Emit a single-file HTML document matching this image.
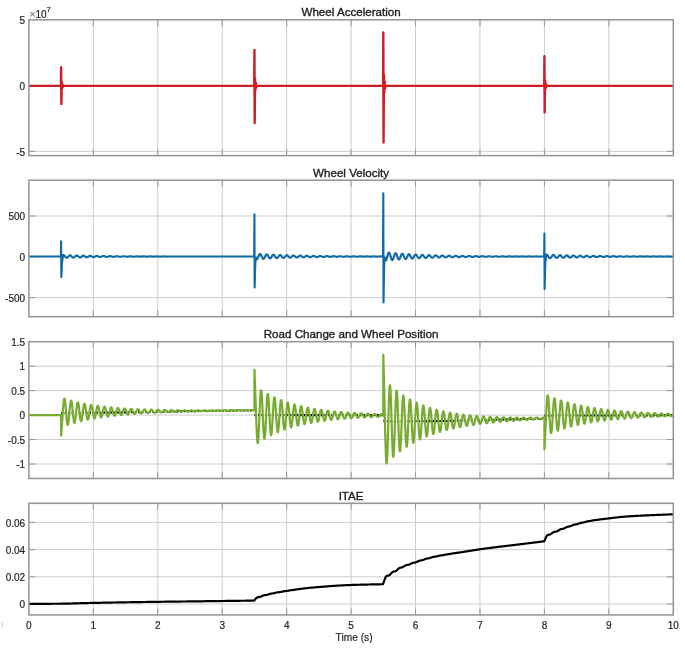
<!DOCTYPE html>
<html><head><meta charset="utf-8"><style>
html,body{margin:0;padding:0;background:#fff;}
body{width:685px;height:649px;overflow:hidden;}
svg{display:block;filter:blur(0.3px);}
.tk{font-family:"Liberation Sans",Arial,sans-serif;font-size:10px;fill:#262626;stroke:#262626;stroke-width:0.2px;}
.tt{font-family:"Liberation Sans",Arial,sans-serif;font-size:11.6px;fill:#1e1e1e;stroke:#1e1e1e;stroke-width:0.35px;}
</style></head><body>
<svg width="685" height="649" viewBox="0 0 685 649"><rect width="685" height="649" fill="#fff"/><clipPath id="c0"><rect x="28.9" y="19.8" width="644.40" height="135.80"/></clipPath><path d="M93.34,19.8V155.6M157.78,19.8V155.6M222.22,19.8V155.6M286.66,19.8V155.6M351.1,19.8V155.6M415.54,19.8V155.6M479.98,19.8V155.6M544.42,19.8V155.6M608.86,19.8V155.6M28.9,151.35H673.3M28.9,85.6H673.3" stroke="#cdcdcd" stroke-width="1" fill="none"/><path d="M93.34,155.6v-6.4M93.34,19.8v6.4M157.78,155.6v-6.4M157.78,19.8v6.4M222.22,155.6v-6.4M222.22,19.8v6.4M286.66,155.6v-6.4M286.66,19.8v6.4M351.1,155.6v-6.4M351.1,19.8v6.4M415.54,155.6v-6.4M415.54,19.8v6.4M479.98,155.6v-6.4M479.98,19.8v6.4M544.42,155.6v-6.4M544.42,19.8v6.4M608.86,155.6v-6.4M608.86,19.8v6.4M28.9,151.35h6.4M673.3,151.35h-6.4M28.9,85.6h6.4M673.3,85.6h-6.4" stroke="#969696" stroke-width="1" fill="none"/><path d="M28.9,85.9 L60.92,85.9 L61.12,67.3 L61.37,103.9 L61.72,82.24 L62.12,88.1 L62.52,84.44 L62.92,86.63 L63.52,85.9 L254.24,85.9 L254.24,85.9 L254.44,50 L254.69,123.1 L255.04,78.59 L255.44,90.29 L255.84,82.98 L256.24,87.36 L256.84,85.9 L383.12,85.9 L383.12,85.9 L383.32,32.5 L383.57,142.5 L383.92,74.9 L384.32,92.5 L384.72,81.5 L385.12,88.1 L385.72,85.9 L544.22,85.9 L544.22,85.9 L544.42,56.3 L544.67,112.4 L545.02,80.29 L545.42,89.27 L545.82,83.66 L546.22,87.02 L546.82,85.9 L673.3,85.9" stroke="#cc1e27" stroke-width="2.4" fill="none" stroke-linejoin="round" clip-path="url(#c0)"/><path d="M60.52,80.32L63.42,85.9L60.52,89.86ZM253.84,75.13L256.74,85.9L253.84,94.08ZM382.72,69.88L385.62,85.9L382.72,98.35ZM543.82,77.02L546.72,85.9L543.82,91.73Z" fill="#dc1a22" stroke="none"/><rect x="28.9" y="19.8" width="644.4" height="135.8" stroke="#969696" stroke-width="1.55" fill="none"/><text x="25.1" y="155.55" text-anchor="end" class="tk">-5</text><text x="25.1" y="89.8" text-anchor="end" class="tk">0</text><text x="25.1" y="24.05" text-anchor="end" class="tk">5</text><text x="351.1" y="16.2" text-anchor="middle" class="tt">Wheel Acceleration</text><clipPath id="c1"><rect x="28.9" y="180.2" width="644.40" height="136.50"/></clipPath><path d="M93.34,180.2V316.7M157.78,180.2V316.7M222.22,180.2V316.7M286.66,180.2V316.7M351.1,180.2V316.7M415.54,180.2V316.7M479.98,180.2V316.7M544.42,180.2V316.7M608.86,180.2V316.7M28.9,297.6H673.3M28.9,256.8H673.3M28.9,216H673.3" stroke="#cdcdcd" stroke-width="1" fill="none"/><path d="M93.34,316.7v-6.4M93.34,180.2v6.4M157.78,316.7v-6.4M157.78,180.2v6.4M222.22,316.7v-6.4M222.22,180.2v6.4M286.66,316.7v-6.4M286.66,180.2v6.4M351.1,316.7v-6.4M351.1,180.2v6.4M415.54,316.7v-6.4M415.54,180.2v6.4M479.98,316.7v-6.4M479.98,180.2v6.4M544.42,316.7v-6.4M544.42,180.2v6.4M608.86,316.7v-6.4M608.86,180.2v6.4M28.9,297.6h6.4M673.3,297.6h-6.4M28.9,256.8h6.4M673.3,256.8h-6.4M28.9,216h6.4M673.3,216h-6.4" stroke="#969696" stroke-width="1" fill="none"/><path d="M28.9,256.5 L60.82,256.5 L61.12,241.2 L61.32,277.1 L62.02,262.5 L62.72,257.5 L63.02,255.09 L63.27,255.01 L63.52,255.01 L63.77,255.09 L64.02,255.25 L64.27,255.47 L64.52,255.75 L64.77,256.06 L65.02,256.4 L65.27,256.73 L65.52,257.05 L65.77,257.33 L66.02,257.56 L66.27,257.73 L66.52,257.84 L66.77,257.86 L67.02,257.82 L67.27,257.7 L67.52,257.52 L67.77,257.28 L68.02,257 L68.27,256.71 L68.52,256.4 L68.77,256.1 L69.02,255.83 L69.27,255.6 L69.52,255.43 L69.77,255.31 L70.02,255.26 L70.27,255.28 L70.52,255.36 L70.77,255.51 L71.02,255.71 L71.27,255.95 L71.52,256.21 L71.77,256.49 L72.02,256.77 L72.27,257.02 L72.52,257.25 L72.77,257.43 L73.02,257.55 L73.27,257.62 L73.52,257.63 L73.77,257.57 L74.02,257.45 L74.27,257.29 L74.52,257.08 L74.77,256.85 L75.02,256.6 L75.27,256.35 L75.52,256.11 L75.77,255.89 L76.02,255.71 L76.27,255.58 L76.52,255.5 L76.77,255.47 L77.02,255.5 L77.27,255.59 L77.52,255.72 L77.77,255.9 L78.02,256.1 L78.27,256.33 L78.52,256.56 L78.77,256.78 L79.02,256.99 L79.27,257.16 L79.52,257.3 L79.77,257.39 L80.02,257.43 L80.27,257.42 L80.52,257.36 L80.77,257.26 L81.02,257.11 L81.27,256.93 L81.52,256.73 L81.77,256.52 L82.02,256.32 L82.27,256.12 L82.52,255.95 L82.77,255.81 L83.02,255.71 L83.27,255.66 L83.52,255.65 L83.77,255.69 L84.02,255.77 L84.27,255.89 L84.52,256.05 L84.77,256.22 L85.02,256.41 L85.27,256.6 L85.52,256.78 L85.77,256.95 L86.02,257.08 L86.27,257.19 L86.52,257.25 L86.77,257.28 L87.02,257.26 L87.27,257.19 L87.52,257.1 L87.77,256.97 L88.02,256.81 L88.27,256.64 L88.52,256.47 L88.77,256.3 L89.02,256.14 L89.27,256.01 L89.52,255.9 L89.77,255.83 L90.02,255.8 L90.27,255.8 L90.52,255.84 L90.77,255.92 L91.02,256.03 L91.27,256.16 L91.52,256.31 L91.77,256.47 L92.02,256.63 L92.27,256.77 L92.52,256.9 L92.77,257.01 L93.02,257.09 L93.27,257.13 L93.52,257.14 L93.77,257.11 L94.02,257.05 L94.27,256.97 L94.52,256.85 L94.77,256.72 L95.02,256.58 L95.27,256.44 L95.52,256.3 L95.77,256.17 L96.02,256.07 L96.27,255.99 L96.52,255.94 L96.77,255.92 L97.02,255.93 L97.27,255.97 L97.52,256.04 L97.77,256.14 L98.02,256.25 L98.27,256.38 L98.52,256.51 L98.77,256.64 L99.02,256.76 L99.27,256.86 L99.52,256.94 L99.77,257 L100.02,257.03 L100.27,257.03 L100.52,257 L100.77,256.94 L101.02,256.86 L101.27,256.76 L101.52,256.65 L101.77,256.53 L102.02,256.41 L102.27,256.3 L102.52,256.2 L102.77,256.12 L103.02,256.06 L103.27,256.03 L103.52,256.02 L103.77,256.03 L104.02,256.08 L104.27,256.14 L104.52,256.23 L104.77,256.33 L105.02,256.43 L105.27,256.54 L105.52,256.64 L105.77,256.74 L106.02,256.82 L106.27,256.88 L106.52,256.92 L106.77,256.94 L107.02,256.93 L107.27,256.9 L107.52,256.85 L107.77,256.78 L108.02,256.69 L108.27,256.6 L108.52,256.5 L108.77,256.4 L109.02,256.31 L109.27,256.23 L109.52,256.17 L109.77,256.13 L110.02,256.1 L110.27,256.1 L110.52,256.12 L110.77,256.16 L111.02,256.22 L111.27,256.3 L111.52,256.38 L111.77,256.47 L112.02,256.56 L112.27,256.64 L112.52,256.72 L112.77,256.78 L113.02,256.83 L113.27,256.86 L113.52,256.86 L113.77,256.85 L114.02,256.82 L114.27,256.77 L114.52,256.71 L114.77,256.64 L115.02,256.56 L115.27,256.48 L115.52,256.4 L115.77,256.32 L116.02,256.26 L116.27,256.21 L116.52,256.18 L116.77,256.17 L117.02,256.17 L117.27,256.2 L117.52,256.23 L117.77,256.29 L118.02,256.35 L118.27,256.42 L118.52,256.49 L118.77,256.57 L119.02,256.64 L119.27,256.7 L119.52,256.75 L119.77,256.78 L120.02,256.8 L120.27,256.8 L120.52,256.79 L120.77,256.76 L121.02,256.71 L121.27,256.66 L121.52,256.6 L121.77,256.53 L122.02,256.46 L122.27,256.4 L122.52,256.34 L122.77,256.29 L123.02,256.25 L123.27,256.23 L123.52,256.22 L123.77,256.23 L124.02,256.26 L124.27,256.29 L124.52,256.34 L124.77,256.39 L125.02,256.45 L125.27,256.51 L125.52,256.57 L125.77,256.63 L126.02,256.68 L126.27,256.71 L126.52,256.74 L126.77,256.75 L127.02,256.75 L127.27,256.73 L127.52,256.7 L127.77,256.66 L128.02,256.62 L128.27,256.56 L128.52,256.51 L128.77,256.45 L129.02,256.4 L129.27,256.35 L129.52,256.32 L129.77,256.29 L130.02,256.28 L130.27,256.27 L130.52,256.28 L130.77,256.3 L131.02,256.34 L131.27,256.38 L131.52,256.42 L131.77,256.47 L132.02,256.52 L132.27,256.57 L132.52,256.62 L132.77,256.65 L133.02,256.68 L133.27,256.7 L133.52,256.71 L133.77,256.7 L134.02,256.69 L134.27,256.66 L134.52,256.63 L134.77,256.59 L135.02,256.54 L135.27,256.49 L135.52,256.45 L135.77,256.41 L136.02,256.37 L136.27,256.34 L136.52,256.32 L136.77,256.31 L137.02,256.31 L137.27,256.32 L137.52,256.34 L137.77,256.37 L138.02,256.41 L138.27,256.45 L138.52,256.49 L138.77,256.53 L139.02,256.57 L139.27,256.61 L139.52,256.64 L139.77,256.66 L140.02,256.67 L140.27,256.67 L140.52,256.66 L140.77,256.65 L141.02,256.63 L141.27,256.6 L141.52,256.56 L141.77,256.52 L142.02,256.48 L142.27,256.45 L142.52,256.41 L142.77,256.39 L143.02,256.36 L143.27,256.35 L143.52,256.34 L143.77,256.35 L144.02,256.36 L144.27,256.38 L144.52,256.4 L144.77,256.43 L145.02,256.47 L145.27,256.5 L145.52,256.54 L145.77,256.57 L146.02,256.6 L146.27,256.62 L146.52,256.63 L146.77,256.64 L147.02,256.64 L147.27,256.63 L147.52,256.62 L147.77,256.6 L148.02,256.57 L148.27,256.54 L148.52,256.51 L148.77,256.48 L149.02,256.45 L149.27,256.42 L149.52,256.4 L149.77,256.38 L150.02,256.37 L150.27,256.37 L150.52,256.38 L150.77,256.39 L151.02,256.4 L151.27,256.43 L151.52,256.45 L151.77,256.48 L152.02,256.51 L152.27,256.54 L152.52,256.56 L152.77,256.58 L153.02,256.6 L153.27,256.61 L153.52,256.62 L153.77,256.62 L154.02,256.61 L154.27,256.59 L154.52,256.58 L154.77,256.55 L155.02,256.53 L155.27,256.5 L155.52,256.47 L155.77,256.45 L156.02,256.43 L156.27,256.41 L156.52,256.4 L156.77,256.39 L157.02,256.39 L157.27,256.4 L157.52,256.41 L157.77,256.43 L158.02,256.44 L158.27,256.47 L158.52,256.49 L158.77,256.51 L159.02,256.54 L159.27,256.56 L159.52,256.57 L159.77,256.59 L160.02,256.6 L160.27,256.6 L160.52,256.59 L160.77,256.59 L161.02,256.57 L161.27,256.56 L161.52,256.54 L161.77,256.52 L162.02,256.49 L162.27,256.47 L162.52,256.45 L162.77,256.44 L163.02,256.42 L163.27,256.42 L163.52,256.41 L163.77,256.41 L164.02,256.42 L164.27,256.43 L164.52,256.44 L164.77,256.46 L165.02,256.48 L165.27,256.5 L165.52,256.52 L165.77,256.54 L166.02,256.55 L166.27,256.57 L166.52,256.57 L166.77,256.58 L167.02,256.58 L167.27,256.58 L167.52,256.57 L167.77,256.56 L168.02,256.54 L168.27,256.53 L168.52,256.51 L168.77,256.49 L169.02,256.47 L169.27,256.46 L169.52,256.44 L169.77,256.43 L170.02,256.43 L170.27,256.43 L170.52,256.43 L170.77,256.43 L171.02,256.44 L171.27,256.46 L171.52,256.47 L171.77,256.49 L172.02,256.5 L172.27,256.52 L172.52,256.53 L172.77,256.55 L173.02,256.56 L173.27,256.56 L173.52,256.57 L173.77,256.57 L174.02,256.56 L174.27,256.55 L174.52,256.54 L174.77,256.53 L175.02,256.52 L175.27,256.5 L175.52,256.49 L175.77,256.47 L176.02,256.46 L176.27,256.45 L176.52,256.44 L176.77,256.44 L177.02,256.44 L177.27,256.44 L177.52,256.45 L177.77,256.46 L178.02,256.47 L178.27,256.48 L178.52,256.49 L178.77,256.51 L179.02,256.52 L179.27,256.53 L179.52,256.54 L179.77,256.55 L180.02,256.55 L180.27,256.56 L180.52,256.55 L180.77,256.55 L181.02,256.54 L181.27,256.53 L181.52,256.52 L181.77,256.51 L182.02,256.5 L182.27,256.49 L182.52,256.48 L182.77,256.47 L183.02,256.46 L183.27,256.45 L183.52,256.45 L183.77,256.45 L184.02,256.45 L184.27,256.46 L184.52,256.47 L184.77,256.48 L185.02,256.49 L185.27,256.5 L185.52,256.51 L185.77,256.52 L186.02,256.53 L186.27,256.54 L186.52,256.54 L186.77,256.55 L187.02,256.55 L187.27,256.54 L187.52,256.54 L187.77,256.53 L188.02,256.53 L188.27,256.52 L188.52,256.51 L188.77,256.5 L189.02,256.49 L189.27,256.48 L189.52,256.47 L189.77,256.46 L190.02,256.46 L190.27,256.46 L190.52,256.46 L190.77,256.46 L191.02,256.47 L191.27,256.47 L191.52,256.48 L191.77,256.49 L192.02,256.5 L192.27,256.51 L192.52,256.52 L192.77,256.53 L193.02,256.53 L193.27,256.54 L193.52,256.54 L193.77,256.54 L194.02,256.54 L194.27,256.53 L194.52,256.53 L194.77,256.52 L195.02,256.51 L195.27,256.5 L195.52,256.49 L195.77,256.49 L196.02,256.48 L196.27,256.47 L196.52,256.47 L196.77,256.47 L197.02,256.47 L197.27,256.47 L197.52,256.47 L197.77,256.47 L198.02,256.48 L198.27,256.49 L198.52,256.49 L198.77,256.5 L199.02,256.51 L199.27,256.52 L199.52,256.52 L199.77,256.53 L200.02,256.53 L200.27,256.53 L200.52,256.53 L200.77,256.53 L201.02,256.53 L201.27,256.52 L201.52,256.51 L201.77,256.51 L202.02,256.5 L202.27,256.49 L202.52,256.49 L202.77,256.48 L203.02,256.48 L203.27,256.47 L203.52,256.47 L203.77,256.47 L204.02,256.47 L204.27,256.48 L204.52,256.48 L204.77,256.48 L205.02,256.49 L205.27,256.5 L205.52,256.5 L205.77,256.51 L206.02,256.52 L206.27,256.52 L206.52,256.52 L206.77,256.53 L207.02,256.53 L207.27,256.53 L207.52,256.52 L207.77,256.52 L208.02,256.52 L208.27,256.51 L208.52,256.5 L208.77,256.5 L209.02,256.49 L209.27,256.49 L209.52,256.48 L209.77,256.48 L210.02,256.48 L210.27,256.48 L210.52,256.48 L210.77,256.48 L211.02,256.48 L211.27,256.48 L211.52,256.49 L211.77,256.49 L212.02,256.5 L212.27,256.5 L212.52,256.51 L212.77,256.51 L213.02,256.52 L213.27,256.52 L213.52,256.52 L213.77,256.52 L214.02,256.52 L214.27,256.52 L214.52,256.52 L214.77,256.51 L215.02,256.51 L215.27,256.5 L215.52,256.5 L215.77,256.49 L216.02,256.49 L216.27,256.49 L216.52,256.48 L216.77,256.48 L217.02,256.48 L217.27,256.48 L217.52,256.48 L217.77,256.48 L218.02,256.49 L218.27,256.49 L218.52,256.5 L218.77,256.5 L219.02,256.5 L219.27,256.51 L219.52,256.51 L219.77,256.52 L220.02,256.52 L220.27,256.52 L220.52,256.52 L220.77,256.52 L221.02,256.51 L221.27,256.51 L221.52,256.51 L221.77,256.5 L222.02,256.5 L222.27,256.5 L222.52,256.49 L222.77,256.49 L223.02,256.49 L223.27,256.49 L223.52,256.48 L223.77,256.48 L224.02,256.48 L224.27,256.49 L224.52,256.49 L224.77,256.49 L225.02,256.49 L225.27,256.5 L225.52,256.5 L225.77,256.5 L226.02,256.51 L226.27,256.51 L226.52,256.51 L226.77,256.51 L227.02,256.51 L227.27,256.51 L227.52,256.51 L227.77,256.51 L228.02,256.51 L228.27,256.51 L228.52,256.5 L228.77,256.5 L229.02,256.5 L229.27,256.49 L229.52,256.49 L229.77,256.49 L230.02,256.49 L230.27,256.49 L230.52,256.49 L230.77,256.49 L231.02,256.49 L231.27,256.49 L231.52,256.49 L231.77,256.5 L232.02,256.5 L232.27,256.5 L232.52,256.5 L232.77,256.51 L233.02,256.51 L233.27,256.51 L233.52,256.51 L233.77,256.51 L234.02,256.51 L234.27,256.51 L234.52,256.51 L234.77,256.51 L235.02,256.5 L235.27,256.5 L235.52,256.5 L235.77,256.5 L236.02,256.49 L236.27,256.49 L236.52,256.49 L236.77,256.49 L237.02,256.49 L237.27,256.49 L237.52,256.49 L237.77,256.49 L238.02,256.49 L238.27,256.5 L238.52,256.5 L238.77,256.5 L239.02,256.5 L239.27,256.5 L239.52,256.51 L239.77,256.51 L240.02,256.51 L240.27,256.51 L240.52,256.51 L240.77,256.51 L241.02,256.51 L241.27,256.51 L241.52,256.51 L241.77,256.5 L242.02,256.5 L242.27,256.5 L242.52,256.5 L242.77,256.49 L243.02,256.49 L243.27,256.49 L243.52,256.49 L243.77,256.49 L244.02,256.49 L244.27,256.49 L244.52,256.49 L244.77,256.49 L245.02,256.5 L245.27,256.5 L245.52,256.5 L245.77,256.5 L246.02,256.5 L246.27,256.51 L246.52,256.51 L246.77,256.51 L247.02,256.51 L247.27,256.51 L247.52,256.51 L247.77,256.51 L248.02,256.51 L248.27,256.5 L248.52,256.5 L248.77,256.5 L249.02,256.5 L249.27,256.5 L249.52,256.5 L249.77,256.49 L250.02,256.49 L250.27,256.49 L250.52,256.49 L250.77,256.49 L251.02,256.49 L251.27,256.49 L251.52,256.5 L251.77,256.5 L252.02,256.5 L252.27,256.5 L252.52,256.5 L252.77,256.5 L253.02,256.51 L253.27,256.51 L253.52,256.51 L253.77,256.51 L254.02,256.51 L254.14,256.5 L254.14,256.5 L254.44,214.3 L254.64,287.5 L255.34,262.5 L256.04,257.5 L256.34,259.15 L256.59,259.31 L256.84,259.31 L257.09,259.16 L257.34,258.86 L257.59,258.44 L257.84,257.92 L258.09,257.33 L258.34,256.7 L258.59,256.07 L258.84,255.46 L259.09,254.93 L259.34,254.48 L259.59,254.16 L259.84,253.96 L260.09,253.91 L260.34,254 L260.59,254.22 L260.84,254.57 L261.09,255.02 L261.34,255.54 L261.59,256.11 L261.84,256.69 L262.09,257.26 L262.34,257.77 L262.59,258.21 L262.84,258.55 L263.09,258.78 L263.34,258.88 L263.59,258.84 L263.84,258.68 L264.09,258.4 L264.34,258.02 L264.59,257.56 L264.84,257.05 L265.09,256.52 L265.34,255.99 L265.59,255.5 L265.84,255.06 L266.09,254.72 L266.34,254.47 L266.59,254.34 L266.84,254.33 L267.09,254.44 L267.34,254.65 L267.59,254.97 L267.84,255.37 L268.09,255.82 L268.34,256.31 L268.59,256.8 L268.84,257.26 L269.09,257.68 L269.34,258.03 L269.59,258.29 L269.84,258.45 L270.09,258.5 L270.34,258.44 L270.59,258.28 L270.84,258.02 L271.09,257.68 L271.34,257.28 L271.59,256.84 L271.84,256.39 L272.09,255.95 L272.34,255.55 L272.59,255.2 L272.84,254.93 L273.09,254.75 L273.34,254.67 L273.59,254.69 L273.84,254.81 L274.09,255.01 L274.34,255.3 L274.59,255.65 L274.84,256.04 L275.09,256.45 L275.34,256.86 L275.59,257.25 L275.84,257.58 L276.09,257.86 L276.34,258.05 L276.59,258.16 L276.84,258.18 L277.09,258.1 L277.34,257.94 L277.59,257.7 L277.84,257.4 L278.09,257.05 L278.34,256.68 L278.59,256.3 L278.84,255.94 L279.09,255.61 L279.34,255.34 L279.59,255.13 L279.84,255 L280.09,254.96 L280.34,255 L280.59,255.12 L280.84,255.31 L281.09,255.57 L281.34,255.88 L281.59,256.21 L281.84,256.56 L282.09,256.9 L282.34,257.21 L282.59,257.48 L282.84,257.7 L283.09,257.84 L283.34,257.91 L283.59,257.9 L283.84,257.82 L284.09,257.66 L284.34,257.44 L284.59,257.18 L284.84,256.88 L285.09,256.56 L285.34,256.25 L285.59,255.95 L285.84,255.68 L286.09,255.47 L286.34,255.31 L286.59,255.22 L286.84,255.2 L287.09,255.26 L287.34,255.38 L287.59,255.56 L287.84,255.79 L288.09,256.05 L288.34,256.34 L288.59,256.63 L288.84,256.91 L289.09,257.17 L289.34,257.38 L289.59,257.55 L289.84,257.65 L290.09,257.69 L290.34,257.67 L290.59,257.58 L290.84,257.43 L291.09,257.24 L291.34,257 L291.59,256.74 L291.84,256.48 L292.09,256.21 L292.34,255.97 L292.59,255.76 L292.84,255.59 L293.09,255.47 L293.34,255.41 L293.59,255.42 L293.84,255.48 L294.09,255.59 L294.34,255.76 L294.59,255.96 L294.84,256.19 L295.09,256.43 L295.34,256.68 L295.59,256.91 L295.84,257.12 L296.09,257.29 L296.34,257.41 L296.59,257.48 L296.84,257.5 L297.09,257.47 L297.34,257.38 L297.59,257.24 L297.84,257.07 L298.09,256.86 L298.34,256.64 L298.59,256.42 L298.84,256.2 L299.09,256 L299.34,255.83 L299.59,255.7 L299.84,255.62 L300.09,255.58 L300.34,255.6 L300.59,255.66 L300.84,255.77 L301.09,255.92 L301.34,256.1 L301.59,256.3 L301.84,256.5 L302.09,256.71 L302.34,256.9 L302.59,257.06 L302.84,257.19 L303.09,257.29 L303.34,257.34 L303.59,257.34 L303.84,257.3 L304.09,257.21 L304.34,257.09 L304.59,256.93 L304.84,256.75 L305.09,256.57 L305.34,256.38 L305.59,256.2 L305.84,256.04 L306.09,255.9 L306.34,255.8 L306.59,255.74 L306.84,255.73 L307.09,255.75 L307.34,255.82 L307.59,255.92 L307.84,256.05 L308.09,256.21 L308.34,256.38 L308.59,256.55 L308.84,256.72 L309.09,256.87 L309.34,257.01 L309.59,257.11 L309.84,257.18 L310.09,257.21 L310.34,257.2 L310.59,257.15 L310.84,257.07 L311.09,256.96 L311.34,256.82 L311.59,256.67 L311.84,256.51 L312.09,256.35 L312.34,256.21 L312.59,256.08 L312.84,255.97 L313.09,255.9 L313.34,255.86 L313.59,255.85 L313.84,255.88 L314.09,255.95 L314.34,256.04 L314.59,256.16 L314.84,256.29 L315.09,256.44 L315.34,256.58 L315.59,256.72 L315.84,256.85 L316.09,256.95 L316.34,257.03 L316.59,257.08 L316.84,257.1 L317.09,257.08 L317.34,257.03 L317.59,256.96 L317.84,256.86 L318.09,256.74 L318.34,256.61 L318.59,256.47 L318.84,256.34 L319.09,256.22 L319.34,256.12 L319.59,256.04 L319.84,255.98 L320.09,255.95 L320.34,255.96 L320.59,255.99 L320.84,256.05 L321.09,256.14 L321.34,256.24 L321.59,256.36 L321.84,256.48 L322.09,256.6 L322.34,256.72 L322.59,256.82 L322.84,256.9 L323.09,256.96 L323.34,257 L323.59,257 L323.84,256.98 L324.09,256.93 L324.34,256.86 L324.59,256.77 L324.84,256.67 L325.09,256.56 L325.34,256.45 L325.59,256.34 L325.84,256.24 L326.09,256.16 L326.34,256.09 L326.59,256.05 L326.84,256.04 L327.09,256.05 L327.34,256.09 L327.59,256.14 L327.84,256.22 L328.09,256.31 L328.34,256.41 L328.59,256.51 L328.84,256.61 L329.09,256.71 L329.34,256.79 L329.59,256.85 L329.84,256.9 L330.09,256.92 L330.34,256.92 L330.59,256.89 L330.84,256.85 L331.09,256.78 L331.34,256.71 L331.59,256.62 L331.84,256.52 L332.09,256.43 L332.34,256.34 L332.59,256.26 L332.84,256.19 L333.09,256.15 L333.34,256.12 L333.59,256.11 L333.84,256.13 L334.09,256.16 L334.34,256.22 L334.59,256.28 L334.84,256.36 L335.09,256.45 L335.34,256.54 L335.59,256.62 L335.84,256.7 L336.09,256.76 L336.34,256.81 L336.59,256.84 L336.84,256.86 L337.09,256.85 L337.34,256.82 L337.59,256.78 L337.84,256.72 L338.09,256.65 L338.34,256.58 L338.59,256.5 L338.84,256.42 L339.09,256.34 L339.34,256.28 L339.59,256.23 L339.84,256.19 L340.09,256.18 L340.34,256.18 L340.59,256.19 L340.84,256.23 L341.09,256.28 L341.34,256.34 L341.59,256.4 L341.84,256.48 L342.09,256.55 L342.34,256.62 L342.59,256.68 L342.84,256.73 L343.09,256.77 L343.34,256.79 L343.59,256.8 L343.84,256.79 L344.09,256.76 L344.34,256.72 L344.59,256.67 L344.84,256.61 L345.09,256.55 L345.34,256.48 L345.59,256.41 L345.84,256.35 L346.09,256.3 L346.34,256.26 L346.59,256.24 L346.84,256.23 L347.09,256.23 L347.34,256.25 L347.59,256.28 L347.84,256.32 L348.09,256.38 L348.34,256.44 L348.59,256.5 L348.84,256.56 L349.09,256.62 L349.34,256.67 L349.59,256.71 L349.84,256.73 L350.09,256.75 L350.34,256.75 L350.59,256.74 L350.84,256.71 L351.09,256.68 L351.34,256.63 L351.59,256.58 L351.84,256.52 L352.09,256.47 L352.34,256.41 L352.59,256.36 L352.84,256.32 L353.09,256.29 L353.34,256.27 L353.59,256.27 L353.84,256.28 L354.09,256.3 L354.34,256.33 L354.59,256.36 L354.84,256.41 L355.09,256.46 L355.34,256.51 L355.59,256.56 L355.84,256.61 L356.09,256.65 L356.34,256.68 L356.59,256.7 L356.84,256.71 L357.09,256.71 L357.34,256.7 L357.59,256.67 L357.84,256.64 L358.09,256.6 L358.34,256.55 L358.59,256.51 L358.84,256.46 L359.09,256.41 L359.34,256.37 L359.59,256.34 L359.84,256.32 L360.09,256.31 L360.34,256.31 L360.59,256.32 L360.84,256.33 L361.09,256.36 L361.34,256.4 L361.59,256.44 L361.84,256.48 L362.09,256.52 L362.34,256.56 L362.59,256.6 L362.84,256.63 L363.09,256.66 L363.34,256.67 L363.59,256.68 L363.84,256.67 L364.09,256.66 L364.34,256.64 L364.59,256.61 L364.84,256.57 L365.09,256.53 L365.34,256.49 L365.59,256.45 L365.84,256.42 L366.09,256.39 L366.34,256.36 L366.59,256.35 L366.84,256.34 L367.09,256.34 L367.34,256.35 L367.59,256.37 L367.84,256.39 L368.09,256.42 L368.34,256.46 L368.59,256.49 L368.84,256.53 L369.09,256.56 L369.34,256.59 L369.59,256.62 L369.84,256.64 L370.09,256.65 L370.34,256.65 L370.59,256.64 L370.84,256.63 L371.09,256.61 L371.34,256.58 L371.59,256.55 L371.84,256.52 L372.09,256.48 L372.34,256.45 L372.59,256.42 L372.84,256.4 L373.09,256.38 L373.34,256.37 L373.59,256.36 L373.84,256.37 L374.09,256.38 L374.34,256.39 L374.59,256.42 L374.84,256.44 L375.09,256.47 L375.34,256.5 L375.59,256.53 L375.84,256.56 L376.09,256.59 L376.34,256.61 L376.59,256.62 L376.84,256.63 L377.09,256.63 L377.34,256.62 L377.59,256.6 L377.84,256.59 L378.09,256.56 L378.34,256.54 L378.59,256.51 L378.84,256.48 L379.09,256.45 L379.34,256.43 L379.59,256.41 L379.84,256.4 L380.09,256.39 L380.34,256.38 L380.59,256.39 L380.84,256.4 L381.09,256.41 L381.34,256.43 L381.59,256.46 L381.84,256.48 L382.09,256.51 L382.34,256.53 L382.59,256.56 L382.84,256.58 L383.02,256.5 L383.02,256.5 L383.32,193.2 L383.52,302.5 L384.22,262.5 L384.92,257.5 L385.22,260.56 L385.47,260.8 L385.72,260.81 L385.97,260.57 L386.22,260.12 L386.47,259.48 L386.72,258.68 L386.97,257.77 L387.22,256.8 L387.47,255.83 L387.72,254.91 L387.97,254.09 L388.22,253.41 L388.47,252.91 L388.72,252.61 L388.97,252.53 L389.22,252.66 L389.47,253.01 L389.72,253.54 L389.97,254.22 L390.22,255.03 L390.47,255.9 L390.72,256.79 L390.97,257.66 L391.22,258.45 L391.47,259.13 L391.72,259.65 L391.97,259.99 L392.22,260.14 L392.47,260.09 L392.72,259.84 L392.97,259.41 L393.22,258.83 L393.47,258.13 L393.72,257.34 L393.97,256.53 L394.22,255.72 L394.47,254.96 L394.72,254.3 L394.97,253.77 L395.22,253.39 L395.47,253.19 L395.72,253.17 L395.97,253.33 L396.22,253.67 L396.47,254.16 L396.72,254.77 L396.97,255.46 L397.22,256.2 L397.47,256.95 L397.72,257.67 L397.97,258.31 L398.22,258.85 L398.47,259.25 L398.72,259.49 L398.97,259.57 L399.22,259.48 L399.47,259.22 L399.72,258.82 L399.97,258.3 L400.22,257.69 L400.47,257.02 L400.72,256.33 L400.97,255.66 L401.22,255.04 L401.47,254.51 L401.72,254.1 L401.97,253.82 L402.22,253.69 L402.47,253.72 L402.72,253.9 L402.97,254.22 L403.22,254.66 L403.47,255.2 L403.72,255.8 L403.97,256.43 L404.22,257.06 L404.47,257.64 L404.72,258.16 L404.97,258.58 L405.22,258.88 L405.47,259.05 L405.72,259.07 L405.97,258.96 L406.22,258.71 L406.47,258.34 L406.72,257.88 L406.97,257.35 L407.22,256.77 L407.47,256.19 L407.72,255.64 L407.97,255.14 L408.22,254.72 L408.47,254.4 L408.72,254.2 L408.97,254.13 L409.22,254.19 L409.47,254.38 L409.72,254.68 L409.97,255.07 L410.22,255.54 L410.47,256.06 L410.72,256.59 L410.97,257.11 L411.22,257.59 L411.47,258.01 L411.72,258.33 L411.97,258.56 L412.22,258.66 L412.47,258.65 L412.72,258.52 L412.97,258.28 L413.22,257.95 L413.47,257.54 L413.72,257.08 L413.97,256.59 L414.22,256.11 L414.47,255.65 L414.72,255.25 L414.97,254.92 L415.22,254.68 L415.47,254.54 L415.72,254.51 L415.97,254.59 L416.22,254.78 L416.47,255.05 L416.72,255.41 L416.97,255.81 L417.22,256.25 L417.47,256.7 L417.72,257.13 L417.97,257.52 L418.22,257.85 L418.47,258.1 L418.72,258.26 L418.97,258.33 L419.22,258.29 L419.47,258.15 L419.72,257.93 L419.97,257.63 L420.22,257.27 L420.47,256.87 L420.72,256.46 L420.97,256.06 L421.22,255.69 L421.47,255.36 L421.72,255.1 L421.97,254.92 L422.22,254.83 L422.47,254.84 L422.72,254.93 L422.97,255.11 L423.22,255.36 L423.47,255.67 L423.72,256.02 L423.97,256.4 L424.22,256.77 L424.47,257.13 L424.72,257.44 L424.97,257.7 L425.22,257.9 L425.47,258.01 L425.72,258.04 L425.97,257.98 L426.22,257.84 L426.47,257.64 L426.72,257.37 L426.97,257.06 L427.22,256.72 L427.47,256.37 L427.72,256.04 L427.97,255.73 L428.22,255.47 L428.47,255.28 L428.72,255.15 L428.97,255.09 L429.22,255.11 L429.47,255.21 L429.72,255.38 L429.97,255.61 L430.22,255.88 L430.47,256.19 L430.72,256.5 L430.97,256.82 L431.22,257.11 L431.47,257.36 L431.72,257.56 L431.97,257.71 L432.22,257.78 L432.47,257.79 L432.72,257.72 L432.97,257.59 L433.22,257.4 L433.47,257.16 L433.72,256.89 L433.97,256.6 L434.22,256.31 L434.47,256.04 L434.72,255.79 L434.97,255.59 L435.22,255.43 L435.47,255.34 L435.72,255.31 L435.97,255.35 L436.22,255.45 L436.47,255.61 L436.72,255.81 L436.97,256.05 L437.22,256.31 L437.47,256.58 L437.72,256.84 L437.97,257.07 L438.22,257.28 L438.47,257.43 L438.72,257.54 L438.97,257.59 L439.22,257.57 L439.47,257.5 L439.72,257.37 L439.97,257.2 L440.22,256.99 L440.47,256.76 L440.72,256.52 L440.97,256.28 L441.22,256.05 L441.47,255.85 L441.72,255.69 L441.97,255.58 L442.22,255.51 L442.47,255.51 L442.72,255.55 L442.97,255.65 L443.22,255.79 L443.47,255.97 L443.72,256.18 L443.97,256.4 L444.22,256.63 L444.47,256.84 L444.72,257.03 L444.97,257.19 L445.22,257.32 L445.47,257.39 L445.72,257.42 L445.97,257.39 L446.22,257.32 L446.47,257.2 L446.72,257.04 L446.97,256.86 L447.22,256.66 L447.47,256.46 L447.72,256.26 L447.97,256.07 L448.22,255.91 L448.47,255.79 L448.72,255.7 L448.97,255.66 L449.22,255.67 L449.47,255.72 L449.72,255.82 L449.97,255.95 L450.22,256.1 L450.47,256.28 L450.72,256.47 L450.97,256.66 L451.22,256.83 L451.47,256.99 L451.72,257.12 L451.97,257.21 L452.22,257.26 L452.47,257.27 L452.72,257.24 L452.97,257.16 L453.22,257.05 L453.47,256.92 L453.72,256.76 L453.97,256.59 L454.22,256.42 L454.47,256.25 L454.72,256.1 L454.97,255.97 L455.22,255.88 L455.47,255.82 L455.72,255.79 L455.97,255.81 L456.22,255.86 L456.47,255.95 L456.72,256.07 L456.97,256.21 L457.22,256.36 L457.47,256.52 L457.72,256.68 L457.97,256.82 L458.22,256.94 L458.47,257.04 L458.72,257.11 L458.97,257.14 L459.22,257.14 L459.47,257.1 L459.72,257.03 L459.97,256.94 L460.22,256.82 L460.47,256.68 L460.72,256.53 L460.97,256.39 L461.22,256.25 L461.47,256.13 L461.72,256.03 L461.97,255.96 L462.22,255.92 L462.47,255.91 L462.72,255.93 L462.97,255.98 L463.22,256.06 L463.47,256.17 L463.72,256.29 L463.97,256.42 L464.22,256.55 L464.47,256.68 L464.72,256.8 L464.97,256.9 L465.22,256.98 L465.47,257.03 L465.72,257.04 L465.97,257.03 L466.22,257 L466.47,256.93 L466.72,256.84 L466.97,256.73 L467.22,256.62 L467.47,256.49 L467.72,256.37 L467.97,256.26 L468.22,256.16 L468.47,256.09 L468.72,256.03 L468.97,256 L469.22,256 L469.47,256.03 L469.72,256.08 L469.97,256.16 L470.22,256.25 L470.47,256.35 L470.72,256.46 L470.97,256.58 L471.22,256.68 L471.47,256.78 L471.72,256.86 L471.97,256.91 L472.22,256.95 L472.47,256.96 L472.72,256.94 L472.97,256.9 L473.22,256.84 L473.47,256.76 L473.72,256.67 L473.97,256.57 L474.22,256.47 L474.47,256.37 L474.72,256.27 L474.97,256.2 L475.22,256.14 L475.47,256.1 L475.72,256.08 L475.97,256.09 L476.22,256.11 L476.47,256.16 L476.72,256.23 L476.97,256.31 L477.22,256.4 L477.47,256.5 L477.72,256.59 L477.97,256.68 L478.22,256.75 L478.47,256.82 L478.72,256.86 L478.97,256.88 L479.22,256.88 L479.47,256.87 L479.72,256.83 L479.97,256.77 L480.22,256.7 L480.47,256.62 L480.72,256.53 L480.97,256.45 L481.22,256.36 L481.47,256.29 L481.72,256.23 L481.97,256.18 L482.22,256.15 L482.47,256.15 L482.72,256.16 L482.97,256.19 L483.22,256.23 L483.47,256.29 L483.72,256.36 L483.97,256.44 L484.22,256.52 L484.47,256.6 L484.72,256.67 L484.97,256.73 L485.22,256.78 L485.47,256.81 L485.72,256.82 L485.97,256.82 L486.22,256.8 L486.47,256.76 L486.72,256.71 L486.97,256.65 L487.22,256.58 L487.47,256.51 L487.72,256.44 L487.97,256.37 L488.22,256.31 L488.47,256.26 L488.72,256.23 L488.97,256.21 L489.22,256.2 L489.47,256.22 L489.72,256.25 L489.97,256.29 L490.22,256.34 L490.47,256.4 L490.72,256.47 L490.97,256.54 L491.22,256.6 L491.47,256.66 L491.72,256.71 L491.97,256.74 L492.22,256.77 L492.47,256.77 L492.72,256.77 L492.97,256.74 L493.22,256.71 L493.47,256.66 L493.72,256.61 L493.97,256.55 L494.22,256.49 L494.47,256.43 L494.72,256.37 L494.97,256.33 L495.22,256.29 L495.47,256.26 L495.72,256.25 L495.97,256.25 L496.22,256.27 L496.47,256.29 L496.72,256.33 L496.97,256.38 L497.22,256.43 L497.47,256.49 L497.72,256.55 L497.97,256.6 L498.22,256.64 L498.47,256.68 L498.72,256.71 L498.97,256.73 L499.22,256.73 L499.47,256.72 L499.72,256.7 L499.97,256.67 L500.22,256.63 L500.47,256.58 L500.72,256.53 L500.97,256.48 L501.22,256.43 L501.47,256.38 L501.72,256.34 L501.97,256.31 L502.22,256.3 L502.47,256.29 L502.72,256.29 L502.97,256.31 L503.22,256.34 L503.47,256.37 L503.72,256.41 L503.97,256.46 L504.22,256.5 L504.47,256.55 L504.72,256.59 L504.97,256.63 L505.22,256.66 L505.47,256.68 L505.72,256.69 L505.97,256.69 L506.22,256.68 L506.47,256.66 L506.72,256.63 L506.97,256.6 L507.22,256.55 L507.47,256.51 L507.72,256.47 L507.97,256.43 L508.22,256.39 L508.47,256.36 L508.72,256.34 L508.97,256.33 L509.22,256.32 L509.47,256.33 L509.72,256.34 L509.97,256.37 L510.22,256.4 L510.47,256.44 L510.72,256.47 L510.97,256.51 L511.22,256.55 L511.47,256.59 L511.72,256.62 L511.97,256.64 L512.22,256.66 L512.47,256.66 L512.72,256.66 L512.97,256.65 L513.22,256.63 L513.47,256.6 L513.72,256.57 L513.97,256.54 L514.22,256.5 L514.47,256.46 L514.72,256.43 L514.97,256.4 L515.22,256.38 L515.47,256.36 L515.72,256.35 L515.97,256.35 L516.22,256.36 L516.47,256.37 L516.72,256.4 L516.97,256.42 L517.22,256.45 L517.47,256.49 L517.72,256.52 L517.97,256.55 L518.22,256.58 L518.47,256.61 L518.72,256.62 L518.97,256.63 L519.22,256.64 L519.47,256.63 L519.72,256.62 L519.97,256.6 L520.22,256.58 L520.47,256.55 L520.72,256.52 L520.97,256.49 L521.22,256.46 L521.47,256.43 L521.72,256.41 L521.97,256.39 L522.22,256.38 L522.47,256.37 L522.72,256.38 L522.97,256.38 L523.22,256.4 L523.47,256.42 L523.72,256.44 L523.97,256.47 L524.22,256.5 L524.47,256.53 L524.72,256.55 L524.97,256.57 L525.22,256.59 L525.47,256.61 L525.72,256.61 L525.97,256.61 L526.22,256.61 L526.47,256.6 L526.72,256.58 L526.97,256.56 L527.22,256.54 L527.47,256.51 L527.72,256.49 L527.97,256.46 L528.22,256.44 L528.47,256.42 L528.72,256.41 L528.97,256.4 L529.22,256.39 L529.47,256.4 L529.72,256.41 L529.97,256.42 L530.22,256.44 L530.47,256.46 L530.72,256.48 L530.97,256.5 L531.22,256.53 L531.47,256.55 L531.72,256.57 L531.97,256.58 L532.22,256.59 L532.47,256.6 L532.72,256.6 L532.97,256.59 L533.22,256.58 L533.47,256.56 L533.72,256.55 L533.97,256.52 L534.22,256.5 L534.47,256.48 L534.72,256.46 L534.97,256.44 L535.22,256.43 L535.47,256.42 L535.72,256.41 L535.97,256.41 L536.22,256.42 L536.47,256.42 L536.72,256.44 L536.97,256.45 L537.22,256.47 L537.47,256.49 L537.72,256.51 L537.97,256.53 L538.22,256.55 L538.47,256.56 L538.72,256.57 L538.97,256.58 L539.22,256.58 L539.47,256.58 L539.72,256.57 L539.97,256.56 L540.22,256.55 L540.47,256.53 L540.72,256.52 L540.97,256.5 L541.22,256.48 L541.47,256.46 L541.72,256.45 L541.97,256.44 L542.22,256.43 L542.47,256.43 L542.72,256.43 L542.97,256.43 L543.22,256.44 L543.47,256.45 L543.72,256.46 L543.97,256.48 L544.12,256.5 L544.12,256.5 L544.42,233.6 L544.62,289 L545.32,262.5 L546.02,257.5 L546.32,254.64 L546.57,254.53 L546.82,254.53 L547.07,254.64 L547.32,254.84 L547.57,255.14 L547.82,255.5 L548.07,255.92 L548.32,256.36 L548.57,256.81 L548.82,257.23 L549.07,257.6 L549.32,257.92 L549.57,258.15 L549.82,258.28 L550.07,258.32 L550.32,258.26 L550.57,258.1 L550.82,257.86 L551.07,257.54 L551.32,257.18 L551.57,256.78 L551.82,256.37 L552.07,255.97 L552.32,255.6 L552.57,255.29 L552.82,255.05 L553.07,254.89 L553.32,254.83 L553.57,254.85 L553.82,254.96 L554.07,255.16 L554.32,255.43 L554.57,255.75 L554.82,256.11 L555.07,256.49 L555.32,256.86 L555.57,257.21 L555.82,257.51 L556.07,257.76 L556.32,257.93 L556.57,258.03 L556.82,258.04 L557.07,257.96 L557.32,257.81 L557.57,257.58 L557.82,257.3 L558.07,256.98 L558.32,256.64 L558.57,256.29 L558.82,255.96 L559.07,255.66 L559.32,255.41 L559.57,255.23 L559.82,255.12 L560.07,255.08 L560.32,255.12 L560.57,255.24 L560.82,255.42 L561.07,255.67 L561.32,255.95 L561.57,256.26 L561.82,256.58 L562.07,256.89 L562.32,257.18 L562.57,257.42 L562.82,257.61 L563.07,257.74 L563.32,257.8 L563.57,257.79 L563.82,257.71 L564.07,257.56 L564.32,257.35 L564.57,257.1 L564.82,256.83 L565.07,256.53 L565.32,256.24 L565.57,255.97 L565.82,255.73 L566.07,255.53 L566.32,255.39 L566.57,255.31 L566.82,255.3 L567.07,255.36 L567.32,255.47 L567.57,255.64 L567.82,255.86 L568.07,256.11 L568.32,256.37 L568.57,256.64 L568.82,256.9 L569.07,257.13 L569.32,257.33 L569.57,257.48 L569.82,257.57 L570.07,257.6 L570.32,257.58 L570.57,257.49 L570.82,257.35 L571.07,257.17 L571.32,256.95 L571.57,256.71 L571.82,256.46 L572.07,256.21 L572.32,255.99 L572.57,255.8 L572.82,255.64 L573.07,255.54 L573.32,255.49 L573.57,255.49 L573.82,255.55 L574.07,255.67 L574.32,255.82 L574.57,256.01 L574.82,256.23 L575.07,256.46 L575.32,256.68 L575.57,256.9 L575.82,257.09 L576.07,257.24 L576.32,257.36 L576.57,257.42 L576.82,257.43 L577.07,257.4 L577.32,257.31 L577.57,257.18 L577.82,257.01 L578.07,256.82 L578.32,256.62 L578.57,256.41 L578.82,256.2 L579.07,256.02 L579.32,255.86 L579.57,255.75 L579.82,255.67 L580.07,255.64 L580.32,255.66 L580.57,255.72 L580.82,255.83 L581.07,255.97 L581.32,256.14 L581.57,256.32 L581.82,256.52 L582.07,256.71 L582.32,256.88 L582.57,257.04 L582.82,257.16 L583.07,257.24 L583.32,257.29 L583.57,257.28 L583.82,257.24 L584.07,257.16 L584.32,257.04 L584.57,256.89 L584.82,256.73 L585.07,256.55 L585.32,256.37 L585.57,256.2 L585.82,256.05 L586.07,255.93 L586.32,255.84 L586.57,255.79 L586.82,255.77 L587.07,255.8 L587.32,255.86 L587.57,255.96 L587.82,256.09 L588.07,256.24 L588.32,256.4 L588.57,256.56 L588.82,256.72 L589.07,256.86 L589.32,256.99 L589.57,257.08 L589.82,257.14 L590.07,257.17 L590.32,257.16 L590.57,257.11 L590.82,257.03 L591.07,256.92 L591.32,256.79 L591.57,256.65 L591.82,256.5 L592.07,256.35 L592.32,256.21 L592.57,256.09 L592.82,255.99 L593.07,255.93 L593.32,255.89 L593.57,255.89 L593.82,255.92 L594.07,255.98 L594.32,256.07 L594.57,256.19 L594.82,256.31 L595.07,256.45 L595.32,256.59 L595.57,256.72 L595.82,256.84 L596.07,256.94 L596.32,257.01 L596.57,257.05 L596.82,257.07 L597.07,257.05 L597.32,257 L597.57,256.93 L597.82,256.83 L598.07,256.71 L598.32,256.59 L598.57,256.46 L598.82,256.34 L599.07,256.23 L599.32,256.13 L599.57,256.05 L599.82,256 L600.07,255.98 L600.32,255.99 L600.57,256.02 L600.82,256.08 L601.07,256.16 L601.32,256.26 L601.57,256.37 L601.82,256.49 L602.07,256.61 L602.32,256.72 L602.57,256.81 L602.82,256.89 L603.07,256.94 L603.32,256.97 L603.57,256.98 L603.82,256.95 L604.07,256.91 L604.32,256.84 L604.57,256.75 L604.82,256.65 L605.07,256.55 L605.32,256.44 L605.57,256.34 L605.82,256.24 L606.07,256.17 L606.32,256.11 L606.57,256.07 L606.82,256.06 L607.07,256.07 L607.32,256.11 L607.57,256.16 L607.82,256.24 L608.07,256.33 L608.32,256.42 L608.57,256.52 L608.82,256.62 L609.07,256.71 L609.32,256.78 L609.57,256.84 L609.82,256.88 L610.07,256.9 L610.32,256.9 L610.57,256.88 L610.82,256.83 L611.07,256.77 L611.32,256.69 L611.57,256.6 L611.82,256.51 L612.07,256.42 L612.32,256.34 L612.57,256.26 L612.82,256.2 L613.07,256.16 L613.32,256.13 L613.57,256.13 L613.82,256.14 L614.07,256.18 L614.32,256.23 L614.57,256.3 L614.82,256.37 L615.07,256.46 L615.32,256.54 L615.57,256.62 L615.82,256.69 L616.07,256.76 L616.32,256.8 L616.57,256.83 L616.82,256.84 L617.07,256.83 L617.32,256.81 L617.57,256.77 L617.82,256.71 L618.07,256.64 L618.32,256.57 L618.57,256.49 L618.82,256.41 L619.07,256.34 L619.32,256.28 L619.57,256.24 L619.82,256.2 L620.07,256.19 L620.32,256.19 L620.57,256.21 L620.82,256.24 L621.07,256.29 L621.32,256.35 L621.57,256.41 L621.82,256.48 L622.07,256.55 L622.32,256.62 L622.57,256.68 L622.82,256.73 L623.07,256.76 L623.32,256.78 L623.57,256.79 L623.82,256.78 L624.07,256.75 L624.32,256.71 L624.57,256.66 L624.82,256.6 L625.07,256.54 L625.32,256.47 L625.57,256.41 L625.82,256.35 L626.07,256.3 L626.32,256.27 L626.57,256.24 L626.82,256.23 L627.07,256.24 L627.32,256.26 L627.57,256.29 L627.82,256.33 L628.07,256.39 L628.32,256.44 L628.57,256.5 L628.82,256.56 L629.07,256.62 L629.32,256.66 L629.57,256.7 L629.82,256.73 L630.07,256.74 L630.32,256.74 L630.57,256.73 L630.82,256.71 L631.07,256.67 L631.32,256.62 L631.57,256.57 L631.82,256.52 L632.07,256.46 L632.32,256.41 L632.57,256.36 L632.82,256.32 L633.07,256.3 L633.32,256.28 L633.57,256.27 L633.82,256.28 L634.07,256.3 L634.32,256.33 L634.57,256.37 L634.82,256.42 L635.07,256.47 L635.32,256.52 L635.57,256.57 L635.82,256.61 L636.07,256.65 L636.32,256.68 L636.57,256.7 L636.82,256.71 L637.07,256.7 L637.32,256.69 L637.57,256.67 L637.82,256.63 L638.07,256.59 L638.32,256.55 L638.57,256.5 L638.82,256.46 L639.07,256.41 L639.32,256.37 L639.57,256.34 L639.82,256.32 L640.07,256.31 L640.32,256.31 L640.57,256.32 L640.82,256.34 L641.07,256.37 L641.32,256.4 L641.57,256.44 L641.82,256.48 L642.07,256.53 L642.32,256.57 L642.57,256.6 L642.82,256.63 L643.07,256.66 L643.32,256.67 L643.57,256.68 L643.82,256.67 L644.07,256.66 L644.32,256.63 L644.57,256.6 L644.82,256.57 L645.07,256.53 L645.32,256.49 L645.57,256.45 L645.82,256.42 L646.07,256.39 L646.32,256.36 L646.57,256.35 L646.82,256.34 L647.07,256.34 L647.32,256.35 L647.57,256.37 L647.82,256.39 L648.07,256.43 L648.32,256.46 L648.57,256.5 L648.82,256.53 L649.07,256.57 L649.32,256.6 L649.57,256.62 L649.82,256.64 L650.07,256.65 L650.32,256.65 L650.57,256.64 L650.82,256.63 L651.07,256.61 L651.32,256.58 L651.57,256.55 L651.82,256.52 L652.07,256.48 L652.32,256.45 L652.57,256.42 L652.82,256.4 L653.07,256.38 L653.32,256.37 L653.57,256.36 L653.82,256.37 L654.07,256.38 L654.32,256.39 L654.57,256.42 L654.82,256.44 L655.07,256.47 L655.32,256.51 L655.57,256.54 L655.82,256.56 L656.07,256.59 L656.32,256.61 L656.57,256.62 L656.82,256.63 L657.07,256.62 L657.32,256.62 L657.57,256.6 L657.82,256.58 L658.07,256.56 L658.32,256.53 L658.57,256.51 L658.82,256.48 L659.07,256.45 L659.32,256.43 L659.57,256.41 L659.82,256.39 L660.07,256.39 L660.32,256.38 L660.57,256.39 L660.82,256.4 L661.07,256.42 L661.32,256.44 L661.57,256.46 L661.82,256.49 L662.07,256.51 L662.32,256.54 L662.57,256.56 L662.82,256.58 L663.07,256.59 L663.32,256.6 L663.57,256.61 L663.82,256.6 L664.07,256.6 L664.32,256.58 L664.57,256.57 L664.82,256.54 L665.07,256.52 L665.32,256.5 L665.57,256.47 L665.82,256.45 L666.07,256.43 L666.32,256.42 L666.57,256.41 L666.82,256.4 L667.07,256.4 L667.32,256.41 L667.57,256.42 L667.82,256.43 L668.07,256.45 L668.32,256.47 L668.57,256.49 L668.82,256.52 L669.07,256.54 L669.32,256.56 L669.57,256.57 L669.82,256.58 L670.07,256.59 L670.32,256.59 L670.57,256.59 L670.82,256.58 L671.07,256.57 L671.32,256.55 L671.57,256.53 L671.82,256.51 L672.07,256.49 L672.32,256.47 L672.57,256.46 L672.82,256.44 L673.3,256.5" stroke="#0f6aa8" stroke-width="2.1" fill="none" stroke-linejoin="round" clip-path="url(#c1)"/><rect x="28.9" y="180.2" width="644.4" height="136.5" stroke="#969696" stroke-width="1.55" fill="none"/><text x="25.1" y="301.8" text-anchor="end" class="tk">-500</text><text x="25.1" y="261" text-anchor="end" class="tk">0</text><text x="25.1" y="220.2" text-anchor="end" class="tk">500</text><text x="351.1" y="176.6" text-anchor="middle" class="tt">Wheel Velocity</text><clipPath id="c2"><rect x="28.9" y="341.7" width="644.40" height="136.80"/></clipPath><path d="M93.34,341.7V478.5M157.78,341.7V478.5M222.22,341.7V478.5M286.66,341.7V478.5M351.1,341.7V478.5M415.54,341.7V478.5M479.98,341.7V478.5M544.42,341.7V478.5M608.86,341.7V478.5M28.9,464H673.3M28.9,439.55H673.3M28.9,415.1H673.3M28.9,390.65H673.3M28.9,366.2H673.3" stroke="#cdcdcd" stroke-width="1" fill="none"/><path d="M93.34,478.5v-6.4M93.34,341.7v6.4M157.78,478.5v-6.4M157.78,341.7v6.4M222.22,478.5v-6.4M222.22,341.7v6.4M286.66,478.5v-6.4M286.66,341.7v6.4M351.1,478.5v-6.4M351.1,341.7v6.4M415.54,478.5v-6.4M415.54,341.7v6.4M479.98,478.5v-6.4M479.98,341.7v6.4M544.42,478.5v-6.4M544.42,341.7v6.4M608.86,478.5v-6.4M608.86,341.7v6.4M28.9,464h6.4M673.3,464h-6.4M28.9,439.55h6.4M673.3,439.55h-6.4M28.9,415.1h6.4M673.3,415.1h-6.4M28.9,390.65h6.4M673.3,390.65h-6.4M28.9,366.2h6.4M673.3,366.2h-6.4" stroke="#969696" stroke-width="1" fill="none"/><path d="M61.12,413.1 L125.56,412.4 L190,411.2 L254.44,410.3M254.44,415.1 L383.32,415.1M383.32,420.5 L389.76,421.5 L447.76,421 L512.2,419.3 L544.42,418.5M544.42,415.6 L673.3,415.3" stroke="#000" stroke-width="2.1" stroke-dasharray="1.9 1.6" fill="none" clip-path="url(#c2)"/><path d="M28.9,415.2 L29.1,415.2 L29.3,415.2 L29.5,415.2 L29.7,415.2 L29.9,415.2 L30.1,415.2 L30.3,415.2 L30.5,415.2 L30.7,415.2 L30.9,415.2 L31.1,415.2 L31.3,415.2 L31.5,415.2 L31.7,415.2 L31.9,415.2 L32.1,415.2 L32.3,415.2 L32.5,415.2 L32.7,415.2 L32.9,415.2 L33.1,415.2 L33.3,415.2 L33.5,415.2 L33.7,415.2 L33.9,415.2 L34.1,415.2 L34.3,415.2 L34.5,415.2 L34.7,415.2 L34.9,415.2 L35.1,415.2 L35.3,415.2 L35.5,415.2 L35.7,415.2 L35.9,415.2 L36.1,415.2 L36.3,415.2 L36.5,415.2 L36.7,415.2 L36.9,415.2 L37.11,415.2 L37.31,415.2 L37.51,415.2 L37.71,415.2 L37.91,415.2 L38.11,415.2 L38.31,415.2 L38.51,415.2 L38.71,415.2 L38.91,415.2 L39.11,415.2 L39.31,415.2 L39.51,415.2 L39.71,415.2 L39.91,415.2 L40.11,415.2 L40.31,415.2 L40.51,415.2 L40.71,415.2 L40.91,415.2 L41.11,415.2 L41.31,415.2 L41.51,415.2 L41.71,415.2 L41.91,415.2 L42.11,415.2 L42.31,415.2 L42.51,415.2 L42.71,415.2 L42.91,415.2 L43.11,415.2 L43.31,415.2 L43.51,415.2 L43.71,415.2 L43.91,415.2 L44.11,415.2 L44.31,415.2 L44.51,415.2 L44.71,415.2 L44.91,415.2 L45.11,415.2 L45.31,415.2 L45.51,415.2 L45.71,415.2 L45.91,415.2 L46.11,415.2 L46.31,415.2 L46.51,415.2 L46.71,415.2 L46.91,415.2 L47.11,415.2 L47.31,415.2 L47.51,415.2 L47.71,415.2 L47.91,415.2 L48.11,415.2 L48.31,415.2 L48.51,415.2 L48.71,415.2 L48.91,415.2 L49.11,415.2 L49.31,415.2 L49.51,415.2 L49.71,415.2 L49.91,415.2 L50.11,415.2 L50.31,415.2 L50.51,415.2 L50.71,415.2 L50.91,415.2 L51.11,415.2 L51.31,415.2 L51.51,415.2 L51.71,415.2 L51.91,415.2 L52.11,415.2 L52.31,415.2 L52.51,415.2 L52.71,415.2 L52.91,415.2 L53.11,415.2 L53.32,415.2 L53.52,415.2 L53.72,415.2 L53.92,415.2 L54.12,415.2 L54.32,415.2 L54.52,415.2 L54.72,415.2 L54.92,415.2 L55.12,415.2 L55.32,415.2 L55.52,415.2 L55.72,415.2 L55.92,415.2 L56.12,415.2 L56.32,415.2 L56.52,415.2 L56.72,415.2 L56.92,415.2 L57.12,415.2 L57.32,415.2 L57.52,415.2 L57.72,415.2 L57.92,415.2 L58.12,415.2 L58.32,415.2 L58.52,415.2 L58.72,415.2 L58.92,415.2 L59.12,415.2 L59.32,415.2 L59.52,415.2 L59.72,415.2 L59.92,415.2 L60.12,415.2 L60.32,415.2 L60.52,415.2 L60.72,415.2 L60.92,415.2 L61.12,415.2 L61.12,435.7 L61.32,432.93 L61.52,430.18 L61.72,427.44 L61.92,424.66 L62.12,421.84 L62.32,418.98 L62.52,416.1 L62.72,413.25 L62.92,410.48 L63.12,407.84 L63.32,405.42 L63.52,403.28 L63.72,401.49 L63.92,400.09 L64.12,399.12 L64.32,398.63 L64.52,398.62 L64.72,399.08 L64.92,400 L65.12,401.34 L65.32,403.04 L65.52,405.06 L65.72,407.3 L65.92,409.7 L66.12,412.16 L66.32,414.6 L66.52,416.94 L66.72,419.08 L66.92,420.97 L67.12,422.53 L67.32,423.71 L67.52,424.48 L67.72,424.81 L67.92,424.69 L68.12,424.14 L68.32,423.17 L68.52,421.82 L68.72,420.16 L68.92,418.22 L69.12,416.1 L69.33,413.86 L69.53,411.58 L69.73,409.35 L69.93,407.24 L70.13,405.32 L70.33,403.67 L70.53,402.33 L70.73,401.35 L70.93,400.76 L71.13,400.58 L71.33,400.81 L71.53,401.44 L71.73,402.44 L71.93,403.77 L72.13,405.39 L72.33,407.23 L72.53,409.22 L72.73,411.3 L72.93,413.4 L73.13,415.42 L73.33,417.32 L73.53,419.01 L73.73,420.45 L73.93,421.58 L74.13,422.37 L74.33,422.79 L74.53,422.84 L74.73,422.5 L74.93,421.81 L75.13,420.78 L75.33,419.46 L75.53,417.9 L75.73,416.15 L75.93,414.27 L76.13,412.34 L76.33,410.42 L76.53,408.57 L76.73,406.87 L76.93,405.38 L77.13,404.13 L77.33,403.18 L77.53,402.55 L77.73,402.26 L77.93,402.32 L78.13,402.73 L78.33,403.47 L78.53,404.5 L78.73,405.79 L78.93,407.28 L79.13,408.94 L79.33,410.69 L79.53,412.47 L79.73,414.22 L79.93,415.88 L80.13,417.39 L80.33,418.7 L80.53,419.77 L80.73,420.55 L80.93,421.03 L81.13,421.19 L81.33,421.03 L81.53,420.55 L81.73,419.78 L81.93,418.75 L82.13,417.49 L82.33,416.06 L82.53,414.49 L82.73,412.86 L82.93,411.22 L83.13,409.62 L83.33,408.12 L83.53,406.77 L83.73,405.63 L83.93,404.72 L84.13,404.08 L84.33,403.72 L84.53,403.66 L84.73,403.9 L84.93,404.42 L85.13,405.2 L85.34,406.22 L85.54,407.43 L85.74,408.79 L85.94,410.26 L86.14,411.77 L86.34,413.27 L86.54,414.72 L86.74,416.06 L86.94,417.24 L87.14,418.23 L87.34,418.99 L87.54,419.5 L87.74,419.74 L87.94,419.7 L88.14,419.4 L88.34,418.83 L88.54,418.04 L88.74,417.03 L88.94,415.87 L89.14,414.57 L89.34,413.2 L89.54,411.8 L89.74,410.42 L89.94,409.1 L90.14,407.91 L90.34,406.86 L90.54,406.01 L90.74,405.37 L90.94,404.98 L91.14,404.83 L91.34,404.94 L91.54,405.29 L91.74,405.87 L91.94,406.67 L92.14,407.64 L92.34,408.75 L92.54,409.97 L92.74,411.24 L92.94,412.53 L93.14,413.79 L93.34,414.96 L93.54,416.02 L93.74,416.93 L93.94,417.65 L94.14,418.17 L94.34,418.46 L94.54,418.52 L94.74,418.34 L94.94,417.95 L95.14,417.34 L95.34,416.55 L95.54,415.61 L95.74,414.54 L95.94,413.39 L96.14,412.21 L96.34,411.02 L96.54,409.88 L96.74,408.82 L96.94,407.88 L97.14,407.08 L97.34,406.47 L97.54,406.06 L97.74,405.85 L97.94,405.86 L98.14,406.08 L98.34,406.5 L98.54,407.11 L98.74,407.88 L98.94,408.79 L99.14,409.79 L99.34,410.86 L99.54,411.96 L99.74,413.04 L99.94,414.07 L100.14,415.01 L100.34,415.84 L100.54,416.51 L100.74,417.02 L100.94,417.34 L101.14,417.47 L101.34,417.39 L101.55,417.12 L101.75,416.67 L101.95,416.06 L102.15,415.3 L102.35,414.43 L102.55,413.48 L102.75,412.48 L102.95,411.46 L103.15,410.47 L103.35,409.54 L103.55,408.7 L103.75,407.97 L103.95,407.39 L104.15,406.97 L104.35,406.73 L104.55,406.66 L104.75,406.78 L104.95,407.08 L105.15,407.54 L105.35,408.15 L105.55,408.88 L105.75,409.7 L105.95,410.59 L106.15,411.52 L106.35,412.45 L106.55,413.34 L106.75,414.18 L106.95,414.92 L107.15,415.55 L107.35,416.03 L107.55,416.37 L107.75,416.54 L107.95,416.54 L108.15,416.37 L108.35,416.04 L108.55,415.57 L108.75,414.97 L108.95,414.26 L109.15,413.48 L109.35,412.64 L109.55,411.77 L109.75,410.92 L109.95,410.1 L110.15,409.35 L110.35,408.7 L110.55,408.15 L110.75,407.74 L110.95,407.48 L111.15,407.37 L111.35,407.41 L111.55,407.6 L111.75,407.94 L111.95,408.41 L112.15,409 L112.35,409.67 L112.55,410.41 L112.75,411.19 L112.95,411.98 L113.15,412.76 L113.35,413.49 L113.55,414.15 L113.75,414.72 L113.95,415.18 L114.15,415.52 L114.35,415.72 L114.55,415.77 L114.75,415.68 L114.95,415.46 L115.15,415.1 L115.35,414.63 L115.55,414.06 L115.75,413.41 L115.95,412.71 L116.15,411.98 L116.35,411.25 L116.55,410.54 L116.75,409.88 L116.95,409.29 L117.15,408.78 L117.35,408.39 L117.56,408.12 L117.76,407.97 L117.96,407.96 L118.16,408.07 L118.36,408.32 L118.56,408.68 L118.76,409.14 L118.96,409.68 L119.16,410.29 L119.36,410.95 L119.56,411.62 L119.76,412.29 L119.96,412.92 L120.16,413.51 L120.36,414.03 L120.56,414.46 L120.76,414.78 L120.96,415 L121.16,415.09 L121.36,415.06 L121.56,414.91 L121.76,414.65 L121.96,414.28 L122.16,413.83 L122.36,413.3 L122.56,412.72 L122.76,412.1 L122.96,411.48 L123.16,410.86 L123.36,410.28 L123.56,409.76 L123.76,409.3 L123.96,408.93 L124.16,408.65 L124.36,408.49 L124.56,408.43 L124.76,408.49 L124.96,408.66 L125.16,408.93 L125.36,409.29 L125.56,409.72 L125.76,410.23 L125.96,410.77 L126.16,411.34 L126.36,411.91 L126.56,412.46 L126.76,412.98 L126.96,413.44 L127.16,413.84 L127.36,414.15 L127.56,414.37 L127.76,414.48 L127.96,414.5 L128.16,414.41 L128.36,414.22 L128.56,413.94 L128.76,413.58 L128.96,413.15 L129.16,412.67 L129.36,412.16 L129.56,411.63 L129.76,411.1 L129.96,410.59 L130.16,410.13 L130.36,409.71 L130.56,409.37 L130.76,409.1 L130.96,408.93 L131.16,408.84 L131.36,408.85 L131.56,408.96 L131.76,409.16 L131.96,409.44 L132.16,409.78 L132.36,410.19 L132.56,410.64 L132.76,411.12 L132.96,411.6 L133.16,412.08 L133.36,412.54 L133.56,412.95 L133.77,413.31 L133.97,413.6 L134.17,413.82 L134.37,413.95 L134.57,413.99 L134.77,413.95 L134.97,413.82 L135.17,413.61 L135.37,413.33 L135.57,412.99 L135.77,412.59 L135.97,412.17 L136.17,411.72 L136.37,411.27 L136.57,410.83 L136.77,410.41 L136.97,410.04 L137.17,409.72 L137.37,409.47 L137.57,409.29 L137.77,409.19 L137.97,409.17 L138.17,409.23 L138.37,409.37 L138.57,409.58 L138.77,409.85 L138.97,410.18 L139.17,410.55 L139.37,410.95 L139.57,411.36 L139.77,411.77 L139.97,412.17 L140.17,412.53 L140.37,412.86 L140.57,413.13 L140.77,413.34 L140.97,413.48 L141.17,413.54 L141.37,413.54 L141.57,413.45 L141.77,413.3 L141.97,413.08 L142.17,412.81 L142.37,412.49 L142.57,412.13 L142.77,411.76 L142.97,411.37 L143.17,410.99 L143.37,410.63 L143.57,410.3 L143.77,410.01 L143.97,409.77 L144.17,409.6 L144.37,409.48 L144.57,409.44 L144.77,409.46 L144.97,409.56 L145.17,409.71 L145.37,409.93 L145.57,410.19 L145.77,410.49 L145.97,410.82 L146.17,411.17 L146.37,411.52 L146.57,411.86 L146.77,412.18 L146.97,412.47 L147.17,412.72 L147.37,412.92 L147.57,413.06 L147.77,413.14 L147.97,413.16 L148.17,413.11 L148.37,413 L148.57,412.84 L148.77,412.62 L148.97,412.36 L149.17,412.07 L149.37,411.76 L149.57,411.43 L149.78,411.1 L149.98,410.79 L150.18,410.49 L150.38,410.23 L150.58,410.01 L150.78,409.84 L150.98,409.73 L151.18,409.67 L151.38,409.66 L151.58,409.72 L151.78,409.83 L151.98,410 L152.18,410.21 L152.38,410.45 L152.58,410.72 L152.78,411.01 L152.98,411.31 L153.18,411.61 L153.38,411.89 L153.58,412.15 L153.78,412.37 L153.98,412.56 L154.18,412.69 L154.38,412.78 L154.58,412.82 L154.78,412.8 L154.98,412.72 L155.18,412.6 L155.38,412.43 L155.58,412.23 L155.78,411.99 L155.98,411.72 L156.18,411.45 L156.38,411.17 L156.58,410.9 L156.78,410.64 L156.98,410.41 L157.18,410.2 L157.38,410.04 L157.58,409.92 L157.78,409.85 L157.98,409.83 L158.18,409.86 L158.38,409.94 L158.58,410.06 L158.78,410.23 L158.98,410.42 L159.18,410.65 L159.38,410.89 L159.58,411.14 L159.78,411.39 L159.98,411.64 L160.18,411.87 L160.38,412.07 L160.58,412.24 L160.78,412.37 L160.98,412.46 L161.18,412.51 L161.38,412.51 L161.58,412.46 L161.78,412.38 L161.98,412.25 L162.18,412.08 L162.38,411.89 L162.58,411.67 L162.78,411.44 L162.98,411.2 L163.18,410.97 L163.38,410.74 L163.58,410.53 L163.78,410.35 L163.98,410.2 L164.18,410.08 L164.38,410.01 L164.58,409.97 L164.78,409.98 L164.98,410.03 L165.18,410.12 L165.38,410.25 L165.58,410.41 L165.78,410.59 L165.99,410.79 L166.19,411 L166.39,411.22 L166.59,411.43 L166.79,411.63 L166.99,411.81 L167.19,411.96 L167.39,412.09 L167.59,412.18 L167.79,412.23 L167.99,412.25 L168.19,412.22 L168.39,412.16 L168.59,412.06 L168.79,411.93 L168.99,411.78 L169.19,411.6 L169.39,411.41 L169.59,411.2 L169.79,411 L169.99,410.81 L170.19,410.62 L170.39,410.46 L170.59,410.32 L170.79,410.21 L170.99,410.13 L171.19,410.09 L171.39,410.08 L171.59,410.11 L171.79,410.18 L171.99,410.27 L172.19,410.39 L172.39,410.54 L172.59,410.71 L172.79,410.88 L172.99,411.07 L173.19,411.25 L173.39,411.42 L173.59,411.58 L173.79,411.72 L173.99,411.84 L174.19,411.93 L174.39,411.98 L174.59,412.01 L174.79,412 L174.99,411.96 L175.19,411.89 L175.39,411.79 L175.59,411.66 L175.79,411.51 L175.99,411.35 L176.19,411.19 L176.39,411.01 L176.59,410.84 L176.79,410.68 L176.99,410.54 L177.19,410.41 L177.39,410.3 L177.59,410.23 L177.79,410.18 L177.99,410.16 L178.19,410.17 L178.39,410.22 L178.59,410.29 L178.79,410.38 L178.99,410.5 L179.19,410.64 L179.39,410.78 L179.59,410.94 L179.79,411.09 L179.99,411.24 L180.19,411.38 L180.39,411.51 L180.59,411.62 L180.79,411.7 L180.99,411.76 L181.19,411.79 L181.39,411.79 L181.59,411.77 L181.79,411.72 L181.99,411.64 L182.2,411.54 L182.4,411.42 L182.6,411.29 L182.8,411.15 L183,411 L183.2,410.85 L183.4,410.71 L183.6,410.58 L183.8,410.47 L184,410.37 L184.2,410.3 L184.4,410.25 L184.6,410.22 L184.8,410.22 L185,410.25 L185.2,410.3 L185.4,410.37 L185.6,410.47 L185.8,410.58 L186,410.7 L186.2,410.83 L186.4,410.96 L186.6,411.09 L186.8,411.21 L187,411.32 L187.2,411.42 L187.4,411.5 L187.6,411.56 L187.8,411.59 L188,411.6 L188.2,411.59 L188.4,411.56 L188.6,411.5 L188.8,411.42 L189,411.32 L189.2,411.21 L189.4,411.1 L189.6,410.97 L189.8,410.85 L190,410.72 L190.2,410.61 L190.4,410.51 L190.6,410.42 L190.8,410.35 L191,410.29 L191.2,410.26 L191.4,410.26 L191.6,410.27 L191.8,410.31 L192,410.36 L192.2,410.43 L192.4,410.52 L192.6,410.62 L192.8,410.73 L193,410.84 L193.2,410.95 L193.4,411.06 L193.6,411.16 L193.8,411.24 L194,411.32 L194.2,411.37 L194.4,411.41 L194.6,411.43 L194.8,411.42 L195,411.4 L195.2,411.36 L195.4,411.3 L195.6,411.22 L195.8,411.13 L196,411.03 L196.2,410.93 L196.4,410.82 L196.6,410.72 L196.8,410.62 L197,410.52 L197.2,410.44 L197.4,410.38 L197.6,410.33 L197.8,410.29 L198,410.28 L198.21,410.28 L198.41,410.31 L198.61,410.35 L198.81,410.4 L199.01,410.47 L199.21,410.55 L199.41,410.64 L199.61,410.74 L199.81,410.83 L200.01,410.92 L200.21,411.01 L200.41,411.09 L200.61,411.15 L200.81,411.21 L201.01,411.24 L201.21,411.27 L201.41,411.27 L201.61,411.26 L201.81,411.22 L202.01,411.18 L202.21,411.12 L202.41,411.05 L202.61,410.96 L202.81,410.88 L203.01,410.79 L203.21,410.7 L203.41,410.61 L203.61,410.53 L203.81,410.45 L204.01,410.39 L204.21,410.34 L204.41,410.31 L204.61,410.29 L204.81,410.29 L205.01,410.3 L205.21,410.33 L205.41,410.37 L205.61,410.43 L205.81,410.49 L206.01,410.56 L206.21,410.64 L206.41,410.72 L206.61,410.8 L206.81,410.88 L207.01,410.95 L207.21,411.01 L207.41,411.06 L207.61,411.09 L207.81,411.12 L208.01,411.12 L208.21,411.12 L208.41,411.1 L208.61,411.06 L208.81,411.01 L209.01,410.96 L209.21,410.89 L209.41,410.82 L209.61,410.74 L209.81,410.66 L210.01,410.58 L210.21,410.51 L210.41,410.45 L210.61,410.39 L210.81,410.34 L211.01,410.31 L211.21,410.29 L211.41,410.28 L211.61,410.29 L211.81,410.31 L212.01,410.34 L212.21,410.38 L212.41,410.43 L212.61,410.49 L212.81,410.56 L213.01,410.62 L213.21,410.69 L213.41,410.76 L213.61,410.82 L213.81,410.87 L214.01,410.92 L214.21,410.95 L214.42,410.98 L214.62,410.99 L214.82,410.99 L215.02,410.97 L215.22,410.95 L215.42,410.91 L215.62,410.86 L215.82,410.81 L216.02,410.75 L216.22,410.68 L216.42,410.62 L216.62,410.55 L216.82,410.49 L217.02,410.43 L217.22,410.38 L217.42,410.33 L217.62,410.3 L217.82,410.28 L218.02,410.27 L218.22,410.27 L218.42,410.28 L218.62,410.3 L218.82,410.33 L219.02,410.38 L219.22,410.42 L219.42,410.48 L219.62,410.53 L219.82,410.59 L220.02,410.65 L220.22,410.7 L220.42,410.75 L220.62,410.79 L220.82,410.82 L221.02,410.85 L221.22,410.86 L221.42,410.86 L221.62,410.85 L221.82,410.84 L222.02,410.81 L222.22,410.77 L222.42,410.73 L222.62,410.68 L222.82,410.62 L223.02,410.57 L223.22,410.51 L223.42,410.45 L223.62,410.4 L223.82,410.36 L224.02,410.32 L224.22,410.28 L224.42,410.26 L224.62,410.25 L224.82,410.24 L225.02,410.25 L225.22,410.26 L225.42,410.29 L225.62,410.32 L225.82,410.36 L226.02,410.4 L226.22,410.45 L226.42,410.5 L226.62,410.55 L226.82,410.59 L227.02,410.63 L227.22,410.67 L227.42,410.7 L227.62,410.72 L227.82,410.74 L228.02,410.74 L228.22,410.74 L228.42,410.73 L228.62,410.71 L228.82,410.68 L229.02,410.64 L229.22,410.6 L229.42,410.56 L229.62,410.51 L229.82,410.46 L230.02,410.41 L230.22,410.37 L230.43,410.32 L230.63,410.29 L230.83,410.26 L231.03,410.23 L231.23,410.22 L231.43,410.21 L231.63,410.21 L231.83,410.22 L232.03,410.24 L232.23,410.27 L232.43,410.3 L232.63,410.33 L232.83,410.37 L233.03,410.41 L233.23,410.45 L233.43,410.49 L233.63,410.53 L233.83,410.56 L234.03,410.59 L234.23,410.61 L234.43,410.63 L234.63,410.63 L234.83,410.63 L235.03,410.62 L235.23,410.61 L235.43,410.59 L235.63,410.56 L235.83,410.52 L236.03,410.49 L236.23,410.45 L236.43,410.4 L236.63,410.36 L236.83,410.32 L237.03,410.28 L237.23,410.25 L237.43,410.22 L237.63,410.2 L237.83,410.19 L238.03,410.18 L238.23,410.17 L238.43,410.18 L238.63,410.19 L238.83,410.21 L239.03,410.23 L239.23,410.26 L239.43,410.29 L239.63,410.33 L239.83,410.36 L240.03,410.4 L240.23,410.43 L240.43,410.46 L240.63,410.48 L240.83,410.5 L241.03,410.52 L241.23,410.53 L241.43,410.53 L241.63,410.52 L241.83,410.51 L242.03,410.49 L242.23,410.47 L242.43,410.44 L242.63,410.41 L242.83,410.38 L243.03,410.34 L243.23,410.31 L243.43,410.27 L243.63,410.24 L243.83,410.21 L244.03,410.18 L244.23,410.16 L244.43,410.15 L244.63,410.14 L244.83,410.13 L245.03,410.13 L245.23,410.14 L245.43,410.16 L245.63,410.17 L245.83,410.2 L246.03,410.22 L246.23,410.25 L246.43,410.28 L246.64,410.31 L246.84,410.33 L247.04,410.36 L247.24,410.38 L247.44,410.4 L247.64,410.42 L247.84,410.42 L248.04,410.43 L248.24,410.43 L248.44,410.42 L248.64,410.4 L248.84,410.39 L249.04,410.36 L249.24,410.34 L249.44,410.31 L249.64,410.28 L249.84,410.25 L250.04,410.22 L250.24,410.19 L250.44,410.16 L250.64,410.14 L250.84,410.12 L251.04,410.1 L251.24,410.09 L251.44,410.09 L251.64,410.09 L251.84,410.09 L252.04,410.1 L252.24,410.11 L252.44,410.13 L252.64,410.15 L252.84,410.17 L253.04,410.2 L253.24,410.22 L253.44,410.25 L253.64,410.27 L253.84,410.29 L254.04,410.3 L254.24,410.32 L254.44,410.33 L254.44,369.83 L254.64,375.01 L254.84,380.23 L255.04,385.53 L255.24,390.95 L255.44,396.5 L255.64,402.17 L255.84,407.91 L256.04,413.61 L256.24,419.17 L256.44,424.44 L256.64,429.29 L256.84,433.59 L257.04,437.19 L257.24,439.99 L257.44,441.91 L257.64,442.89 L257.84,442.9 L258.04,441.96 L258.24,440.1 L258.44,437.4 L258.64,433.96 L258.84,429.91 L259.04,425.4 L259.24,420.58 L259.44,415.63 L259.64,410.72 L259.84,406.03 L260.04,401.72 L260.24,397.94 L260.44,394.82 L260.64,392.45 L260.84,390.91 L261.04,390.26 L261.24,390.5 L261.44,391.61 L261.64,393.56 L261.84,396.26 L262.04,399.61 L262.24,403.48 L262.44,407.74 L262.65,412.24 L262.85,416.8 L263.05,421.27 L263.25,425.49 L263.45,429.33 L263.65,432.63 L263.85,435.31 L264.05,437.25 L264.25,438.42 L264.45,438.77 L264.65,438.29 L264.85,437.02 L265.05,435 L265.25,432.32 L265.45,429.07 L265.65,425.38 L265.85,421.38 L266.05,417.2 L266.25,413.01 L266.45,408.95 L266.65,405.16 L266.85,401.76 L267.05,398.89 L267.25,396.63 L267.45,395.05 L267.65,394.21 L267.85,394.13 L268.05,394.79 L268.25,396.18 L268.45,398.24 L268.65,400.88 L268.85,404.02 L269.05,407.52 L269.25,411.27 L269.45,415.13 L269.65,418.97 L269.85,422.65 L270.05,426.04 L270.25,429.03 L270.45,431.51 L270.65,433.4 L270.85,434.65 L271.05,435.21 L271.25,435.07 L271.45,434.24 L271.65,432.76 L271.85,430.69 L272.05,428.11 L272.25,425.11 L272.45,421.8 L272.65,418.3 L272.85,414.73 L273.05,411.23 L273.25,407.91 L273.45,404.89 L273.65,402.28 L273.85,400.15 L274.05,398.59 L274.25,397.64 L274.45,397.32 L274.65,397.65 L274.85,398.6 L275.05,400.14 L275.25,402.2 L275.45,404.71 L275.65,407.57 L275.85,410.69 L276.05,413.94 L276.25,417.22 L276.45,420.41 L276.65,423.39 L276.85,426.06 L277.05,428.34 L277.25,430.14 L277.45,431.41 L277.65,432.11 L277.85,432.21 L278.05,431.73 L278.25,430.68 L278.45,429.11 L278.66,427.07 L278.86,424.65 L279.06,421.93 L279.26,419.01 L279.46,415.99 L279.66,412.99 L279.86,410.11 L280.06,407.44 L280.26,405.08 L280.46,403.11 L280.66,401.6 L280.86,400.59 L281.06,400.12 L281.26,400.19 L281.46,400.8 L281.66,401.92 L281.86,403.5 L282.06,405.5 L282.26,407.82 L282.46,410.4 L282.66,413.12 L282.86,415.91 L283.06,418.65 L283.26,421.26 L283.46,423.63 L283.66,425.7 L283.86,427.39 L284.06,428.64 L284.26,429.42 L284.46,429.7 L284.66,429.48 L284.86,428.77 L285.06,427.6 L285.26,426.02 L285.46,424.08 L285.66,421.85 L285.86,419.43 L286.06,416.89 L286.26,414.33 L286.46,411.83 L286.66,409.49 L286.86,407.38 L287.06,405.58 L287.26,404.15 L287.46,403.12 L287.66,402.55 L287.86,402.43 L288.06,402.78 L288.26,403.57 L288.46,404.77 L288.66,406.34 L288.86,408.21 L289.06,410.32 L289.26,412.6 L289.46,414.95 L289.66,417.3 L289.86,419.56 L290.06,421.66 L290.26,423.52 L290.46,425.08 L290.66,426.29 L290.86,427.11 L291.06,427.51 L291.26,427.48 L291.46,427.03 L291.66,426.18 L291.86,424.97 L292.06,423.43 L292.26,421.63 L292.46,419.63 L292.66,417.5 L292.86,415.33 L293.06,413.18 L293.26,411.14 L293.46,409.27 L293.66,407.63 L293.86,406.29 L294.06,405.29 L294.26,404.65 L294.46,404.41 L294.66,404.55 L294.87,405.08 L295.07,405.97 L295.27,407.19 L295.47,408.69 L295.67,410.41 L295.87,412.29 L296.07,414.27 L296.27,416.28 L296.47,418.23 L296.67,420.07 L296.87,421.73 L297.07,423.16 L297.27,424.3 L297.47,425.12 L297.67,425.6 L297.87,425.71 L298.07,425.47 L298.27,424.88 L298.47,423.96 L298.67,422.75 L298.87,421.3 L299.07,419.66 L299.27,417.89 L299.47,416.06 L299.67,414.22 L299.87,412.44 L300.07,410.79 L300.27,409.32 L300.47,408.09 L300.67,407.12 L300.87,406.46 L301.07,406.13 L301.27,406.13 L301.47,406.45 L301.67,407.1 L301.87,408.03 L302.07,409.21 L302.27,410.61 L302.47,412.16 L302.67,413.82 L302.87,415.52 L303.07,417.2 L303.27,418.8 L303.47,420.27 L303.67,421.57 L303.87,422.63 L304.07,423.43 L304.27,423.95 L304.47,424.16 L304.67,424.07 L304.87,423.68 L305.07,423 L305.27,422.07 L305.47,420.91 L305.67,419.57 L305.87,418.11 L306.07,416.57 L306.27,415 L306.47,413.47 L306.67,412.02 L306.87,410.71 L307.07,409.59 L307.27,408.68 L307.47,408.02 L307.67,407.63 L307.87,407.52 L308.07,407.69 L308.27,408.14 L308.47,408.84 L308.67,409.76 L308.87,410.88 L309.07,412.16 L309.27,413.53 L309.47,414.97 L309.67,416.4 L309.87,417.8 L310.07,419.09 L310.27,420.25 L310.47,421.23 L310.67,422 L310.88,422.53 L311.08,422.81 L311.28,422.83 L311.48,422.59 L311.68,422.11 L311.88,421.39 L312.08,420.48 L312.28,419.4 L312.48,418.19 L312.68,416.91 L312.88,415.58 L313.08,414.26 L313.28,413 L313.48,411.84 L313.68,410.83 L313.88,409.98 L314.08,409.34 L314.28,408.92 L314.48,408.74 L314.68,408.79 L314.88,409.08 L315.08,409.6 L315.28,410.31 L315.48,411.21 L315.68,412.24 L315.88,413.38 L316.08,414.58 L316.28,415.81 L316.48,417.01 L316.68,418.14 L316.88,419.17 L317.08,420.07 L317.28,420.79 L317.48,421.32 L317.68,421.64 L317.88,421.74 L318.08,421.62 L318.28,421.28 L318.48,420.75 L318.68,420.04 L318.88,419.17 L319.08,418.18 L319.28,417.11 L319.48,415.99 L319.68,414.87 L319.88,413.78 L320.08,412.76 L320.28,411.85 L320.48,411.07 L320.68,410.46 L320.88,410.03 L321.08,409.8 L321.28,409.77 L321.48,409.94 L321.68,410.31 L321.88,410.85 L322.08,411.56 L322.28,412.39 L322.48,413.33 L322.68,414.33 L322.88,415.37 L323.08,416.4 L323.28,417.38 L323.48,418.3 L323.68,419.1 L323.88,419.77 L324.08,420.29 L324.28,420.63 L324.48,420.78 L324.68,420.75 L324.88,420.54 L325.08,420.14 L325.28,419.59 L325.48,418.91 L325.68,418.1 L325.88,417.22 L326.08,416.28 L326.28,415.33 L326.48,414.39 L326.68,413.49 L326.88,412.68 L327.09,411.98 L327.29,411.4 L327.49,410.98 L327.69,410.72 L327.89,410.63 L328.09,410.71 L328.29,410.96 L328.49,411.36 L328.69,411.91 L328.89,412.58 L329.09,413.35 L329.29,414.18 L329.49,415.05 L329.69,415.93 L329.89,416.79 L330.09,417.59 L330.29,418.31 L330.49,418.92 L330.69,419.41 L330.89,419.76 L331.09,419.95 L331.29,419.98 L331.49,419.86 L331.69,419.58 L331.89,419.17 L332.09,418.62 L332.29,417.98 L332.49,417.25 L332.69,416.47 L332.89,415.66 L333.09,414.85 L333.29,414.08 L333.49,413.36 L333.69,412.73 L333.89,412.19 L334.09,411.78 L334.29,411.51 L334.49,411.38 L334.69,411.39 L334.89,411.55 L335.09,411.85 L335.29,412.27 L335.49,412.8 L335.69,413.42 L335.89,414.11 L336.09,414.84 L336.29,415.58 L336.49,416.32 L336.69,417.02 L336.89,417.66 L337.09,418.22 L337.29,418.67 L337.49,419.01 L337.69,419.23 L337.89,419.31 L338.09,419.25 L338.29,419.07 L338.49,418.76 L338.69,418.34 L338.89,417.82 L339.09,417.22 L339.29,416.58 L339.49,415.9 L339.69,415.21 L339.89,414.54 L340.09,413.91 L340.29,413.34 L340.49,412.86 L340.69,412.47 L340.89,412.19 L341.09,412.03 L341.29,412 L341.49,412.08 L341.69,412.29 L341.89,412.61 L342.09,413.03 L342.29,413.53 L342.49,414.09 L342.69,414.7 L342.89,415.33 L343.09,415.96 L343.3,416.57 L343.5,417.13 L343.7,417.64 L343.9,418.06 L344.1,418.38 L344.3,418.61 L344.5,418.72 L344.7,418.71 L344.9,418.6 L345.1,418.37 L345.3,418.05 L345.5,417.64 L345.7,417.16 L345.9,416.63 L346.1,416.06 L346.3,415.47 L346.5,414.9 L346.7,414.35 L346.9,413.84 L347.1,413.4 L347.3,413.04 L347.5,412.77 L347.7,412.6 L347.9,412.53 L348.1,412.56 L348.3,412.7 L348.5,412.94 L348.7,413.26 L348.9,413.66 L349.1,414.12 L349.3,414.62 L349.5,415.15 L349.7,415.69 L349.9,416.22 L350.1,416.71 L350.3,417.16 L350.5,417.54 L350.7,417.85 L350.9,418.07 L351.1,418.2 L351.3,418.24 L351.5,418.18 L351.7,418.02 L351.9,417.78 L352.1,417.46 L352.3,417.07 L352.5,416.63 L352.7,416.16 L352.9,415.67 L353.1,415.17 L353.3,414.7 L353.5,414.25 L353.7,413.86 L353.9,413.52 L354.1,413.26 L354.3,413.08 L354.5,412.99 L354.7,412.99 L354.9,413.07 L355.1,413.24 L355.3,413.49 L355.5,413.8 L355.7,414.18 L355.9,414.59 L356.1,415.03 L356.3,415.49 L356.5,415.94 L356.7,416.37 L356.9,416.77 L357.1,417.12 L357.3,417.4 L357.5,417.62 L357.7,417.76 L357.9,417.82 L358.1,417.8 L358.3,417.7 L358.5,417.52 L358.7,417.27 L358.9,416.96 L359.1,416.61 L359.31,416.21 L359.51,415.8 L359.71,415.38 L359.91,414.97 L360.11,414.58 L360.31,414.23 L360.51,413.92 L360.71,413.68 L360.91,413.5 L361.11,413.39 L361.31,413.36 L361.51,413.4 L361.71,413.52 L361.91,413.71 L362.11,413.95 L362.31,414.25 L362.51,414.59 L362.71,414.96 L362.91,415.34 L363.11,415.73 L363.31,416.1 L363.51,416.45 L363.71,416.76 L363.91,417.03 L364.11,417.24 L364.31,417.38 L364.51,417.46 L364.71,417.47 L364.91,417.4 L365.11,417.28 L365.31,417.09 L365.51,416.84 L365.71,416.56 L365.91,416.23 L366.11,415.89 L366.31,415.53 L366.51,415.18 L366.71,414.84 L366.91,414.53 L367.11,414.26 L367.31,414.03 L367.51,413.85 L367.71,413.74 L367.91,413.69 L368.11,413.7 L368.31,413.78 L368.51,413.91 L368.71,414.1 L368.91,414.34 L369.11,414.62 L369.31,414.92 L369.51,415.24 L369.71,415.57 L369.91,415.89 L370.11,416.2 L370.31,416.48 L370.51,416.72 L370.71,416.91 L370.91,417.06 L371.11,417.14 L371.31,417.17 L371.51,417.14 L371.71,417.05 L371.91,416.91 L372.11,416.72 L372.31,416.49 L372.51,416.23 L372.71,415.94 L372.91,415.64 L373.11,415.34 L373.31,415.05 L373.51,414.77 L373.71,414.53 L373.91,414.32 L374.11,414.15 L374.31,414.04 L374.51,413.97 L374.71,413.96 L374.91,414.01 L375.11,414.1 L375.31,414.25 L375.52,414.44 L375.72,414.66 L375.92,414.91 L376.12,415.18 L376.32,415.45 L376.52,415.73 L376.72,416 L376.92,416.24 L377.12,416.46 L377.32,416.64 L377.52,416.78 L377.72,416.87 L377.92,416.92 L378.12,416.91 L378.32,416.85 L378.52,416.75 L378.72,416.6 L378.92,416.42 L379.12,416.21 L379.32,415.97 L379.52,415.72 L379.72,415.46 L379.92,415.21 L380.12,414.97 L380.32,414.75 L380.52,414.56 L380.72,414.41 L380.92,414.29 L381.12,414.22 L381.32,414.19 L381.52,414.21 L381.72,414.28 L381.92,414.39 L382.12,414.53 L382.32,414.71 L382.52,414.92 L382.72,415.14 L382.92,415.37 L383.12,415.61 L383.32,415.84 L383.32,354.74 L383.52,362.73 L383.72,370.74 L383.92,378.83 L384.12,387.06 L384.32,395.45 L384.52,403.97 L384.72,412.54 L384.92,421.03 L385.12,429.25 L385.32,437.02 L385.52,444.12 L385.72,450.36 L385.92,455.54 L386.12,459.52 L386.32,462.17 L386.52,463.42 L386.72,463.24 L386.92,461.64 L387.12,458.7 L387.32,454.53 L387.52,449.29 L387.72,443.17 L387.92,436.39 L388.12,429.2 L388.32,421.85 L388.52,414.61 L388.72,407.72 L388.92,401.43 L389.12,395.94 L389.32,391.45 L389.52,388.1 L389.72,386 L389.92,385.2 L390.12,385.74 L390.32,387.56 L390.52,390.6 L390.72,394.73 L390.92,399.8 L391.12,405.62 L391.32,411.98 L391.53,418.65 L391.73,425.4 L391.93,431.97 L392.13,438.15 L392.33,443.72 L392.53,448.48 L392.73,452.29 L392.93,455.01 L393.13,456.57 L393.33,456.91 L393.53,456.03 L393.73,453.99 L393.93,450.86 L394.13,446.76 L394.33,441.85 L394.53,436.31 L394.73,430.34 L394.93,424.15 L395.13,417.96 L395.33,411.99 L395.53,406.45 L395.73,401.53 L395.93,397.4 L396.13,394.18 L396.33,392 L396.53,390.9 L396.73,390.93 L396.93,392.06 L397.13,394.25 L397.33,397.41 L397.53,401.41 L397.73,406.12 L397.93,411.35 L398.13,416.91 L398.33,422.62 L398.53,428.26 L398.73,433.63 L398.93,438.56 L399.13,442.86 L399.33,446.41 L399.53,449.07 L399.73,450.76 L399.93,451.44 L400.13,451.09 L400.33,449.72 L400.53,447.41 L400.73,444.24 L400.93,440.33 L401.13,435.83 L401.33,430.89 L401.53,425.7 L401.73,420.44 L401.93,415.3 L402.13,410.46 L402.33,406.08 L402.53,402.31 L402.73,399.28 L402.93,397.09 L403.13,395.81 L403.33,395.47 L403.53,396.08 L403.73,397.6 L403.93,399.97 L404.13,403.1 L404.33,406.87 L404.53,411.14 L404.73,415.76 L404.93,420.56 L405.13,425.37 L405.33,430.02 L405.53,434.35 L405.73,438.21 L405.93,441.46 L406.13,444.01 L406.33,445.76 L406.53,446.66 L406.73,446.69 L406.93,445.85 L407.13,444.19 L407.33,441.78 L407.54,438.69 L407.74,435.05 L407.94,431 L408.14,426.67 L408.34,422.22 L408.54,417.81 L408.74,413.6 L408.94,409.73 L409.14,406.33 L409.34,403.52 L409.54,401.39 L409.74,400.01 L409.94,399.42 L410.14,399.63 L410.34,400.63 L410.54,402.37 L410.74,404.78 L410.94,407.78 L411.14,411.25 L411.34,415.06 L411.54,419.08 L411.74,423.16 L411.94,427.17 L412.14,430.95 L412.34,434.37 L412.54,437.33 L412.74,439.72 L412.94,441.46 L413.14,442.49 L413.34,442.8 L413.54,442.37 L413.74,441.22 L413.94,439.41 L414.14,437 L414.34,434.09 L414.54,430.78 L414.74,427.18 L414.94,423.44 L415.14,419.69 L415.34,416.05 L415.54,412.65 L415.74,409.61 L415.94,407.03 L416.14,405 L416.34,403.59 L416.54,402.83 L416.74,402.75 L416.94,403.34 L417.14,404.58 L417.34,406.42 L417.54,408.77 L417.74,411.57 L417.94,414.7 L418.14,418.05 L418.34,421.49 L418.54,424.92 L418.74,428.2 L418.94,431.22 L419.14,433.88 L419.34,436.1 L419.54,437.78 L419.74,438.89 L419.94,439.38 L420.14,439.25 L420.34,438.5 L420.54,437.18 L420.74,435.32 L420.94,433.01 L421.14,430.32 L421.34,427.36 L421.54,424.23 L421.74,421.04 L421.94,417.91 L422.14,414.94 L422.34,412.25 L422.54,409.91 L422.74,408.01 L422.94,406.61 L423.14,405.75 L423.34,405.47 L423.54,405.75 L423.75,406.6 L423.95,407.96 L424.15,409.8 L424.35,412.03 L424.55,414.58 L424.75,417.35 L424.95,420.25 L425.15,423.16 L425.35,426 L425.55,428.65 L425.75,431.03 L425.95,433.05 L426.15,434.65 L426.35,435.77 L426.55,436.39 L426.75,436.48 L426.95,436.04 L427.15,435.1 L427.35,433.69 L427.55,431.87 L427.75,429.71 L427.95,427.28 L428.15,424.67 L428.35,421.98 L428.55,419.3 L428.75,416.73 L428.95,414.35 L429.15,412.25 L429.35,410.49 L429.55,409.14 L429.75,408.24 L429.95,407.81 L430.15,407.87 L430.35,408.41 L430.55,409.4 L430.75,410.81 L430.95,412.57 L431.15,414.64 L431.35,416.92 L431.55,419.34 L431.75,421.81 L431.95,424.24 L432.15,426.55 L432.35,428.66 L432.55,430.49 L432.75,431.98 L432.95,433.09 L433.15,433.78 L433.35,434.02 L433.55,433.82 L433.75,433.18 L433.95,432.13 L434.15,430.72 L434.35,428.99 L434.55,427.01 L434.75,424.85 L434.95,422.59 L435.15,420.31 L435.35,418.09 L435.55,416.01 L435.75,414.13 L435.95,412.53 L436.15,411.25 L436.35,410.34 L436.55,409.82 L436.75,409.71 L436.95,410.02 L437.15,410.71 L437.35,411.77 L437.55,413.16 L437.75,414.82 L437.95,416.68 L438.15,418.7 L438.35,420.78 L438.55,422.85 L438.75,424.86 L438.95,426.71 L439.15,428.35 L439.35,429.73 L439.55,430.79 L439.76,431.51 L439.96,431.86 L440.16,431.83 L440.36,431.43 L440.56,430.67 L440.76,429.58 L440.96,428.21 L441.16,426.61 L441.36,424.84 L441.56,422.95 L441.76,421.02 L441.96,419.11 L442.16,417.29 L442.36,415.63 L442.56,414.18 L442.76,412.99 L442.96,412.1 L443.16,411.53 L443.36,411.31 L443.56,411.43 L443.76,411.89 L443.96,412.68 L444.16,413.75 L444.36,415.07 L444.56,416.59 L444.76,418.25 L444.96,420 L445.16,421.76 L445.36,423.48 L445.56,425.11 L445.76,426.57 L445.96,427.82 L446.16,428.83 L446.36,429.55 L446.56,429.96 L446.76,430.05 L446.96,429.83 L447.16,429.3 L447.36,428.48 L447.56,427.41 L447.76,426.12 L447.96,424.67 L448.16,423.1 L448.36,421.47 L448.56,419.84 L448.76,418.27 L448.96,416.81 L449.16,415.51 L449.36,414.41 L449.56,413.56 L449.76,412.97 L449.96,412.67 L450.16,412.66 L450.36,412.95 L450.56,413.51 L450.76,414.33 L450.96,415.37 L451.16,416.59 L451.36,417.96 L451.56,419.41 L451.76,420.9 L451.96,422.38 L452.16,423.79 L452.36,425.08 L452.56,426.21 L452.76,427.15 L452.96,427.85 L453.16,428.3 L453.36,428.48 L453.56,428.39 L453.76,428.04 L453.96,427.43 L454.16,426.61 L454.36,425.58 L454.56,424.4 L454.76,423.1 L454.96,421.74 L455.16,420.35 L455.36,419 L455.56,417.72 L455.76,416.56 L455.97,415.56 L456.17,414.76 L456.37,414.17 L456.57,413.82 L456.77,413.72 L456.97,413.87 L457.17,414.26 L457.37,414.87 L457.57,415.68 L457.77,416.66 L457.97,417.77 L458.17,418.98 L458.37,420.24 L458.57,421.49 L458.77,422.71 L458.97,423.85 L459.17,424.86 L459.37,425.72 L459.57,426.39 L459.77,426.85 L459.97,427.09 L460.17,427.1 L460.37,426.88 L460.57,426.45 L460.77,425.82 L460.97,425.01 L461.17,424.05 L461.37,422.99 L461.57,421.85 L461.77,420.68 L461.97,419.51 L462.17,418.4 L462.37,417.38 L462.57,416.48 L462.77,415.73 L462.97,415.16 L463.17,414.79 L463.37,414.62 L463.57,414.67 L463.77,414.92 L463.97,415.37 L464.17,415.99 L464.37,416.77 L464.57,417.67 L464.77,418.67 L464.97,419.72 L465.17,420.78 L465.37,421.83 L465.57,422.82 L465.77,423.72 L465.97,424.5 L466.17,425.12 L466.37,425.58 L466.57,425.86 L466.77,425.94 L466.97,425.83 L467.17,425.53 L467.37,425.05 L467.57,424.42 L467.77,423.66 L467.97,422.79 L468.17,421.84 L468.37,420.86 L468.57,419.87 L468.77,418.9 L468.97,418.01 L469.17,417.2 L469.37,416.52 L469.57,415.97 L469.77,415.59 L469.97,415.39 L470.17,415.35 L470.37,415.5 L470.57,415.82 L470.77,416.29 L470.97,416.9 L471.17,417.63 L471.37,418.44 L471.57,419.31 L471.77,420.21 L471.97,421.11 L472.18,421.97 L472.38,422.76 L472.58,423.46 L472.78,424.04 L472.98,424.48 L473.18,424.77 L473.38,424.9 L473.58,424.87 L473.78,424.67 L473.98,424.33 L474.18,423.84 L474.38,423.23 L474.58,422.53 L474.78,421.75 L474.98,420.92 L475.18,420.08 L475.38,419.25 L475.58,418.47 L475.78,417.75 L475.98,417.13 L476.18,416.63 L476.38,416.25 L476.58,416.02 L476.78,415.93 L476.98,416 L477.18,416.21 L477.38,416.56 L477.58,417.04 L477.78,417.62 L477.98,418.28 L478.18,419 L478.38,419.76 L478.58,420.52 L478.78,421.26 L478.98,421.95 L479.18,422.57 L479.38,423.1 L479.58,423.52 L479.78,423.82 L479.98,423.98 L480.18,424 L480.38,423.89 L480.58,423.64 L480.78,423.27 L480.98,422.79 L481.18,422.22 L481.38,421.58 L481.58,420.9 L481.78,420.19 L481.98,419.48 L482.18,418.8 L482.38,418.17 L482.58,417.61 L482.78,417.14 L482.98,416.78 L483.18,416.53 L483.38,416.41 L483.58,416.42 L483.78,416.55 L483.98,416.81 L484.18,417.17 L484.38,417.63 L484.58,418.16 L484.78,418.76 L484.98,419.39 L485.18,420.03 L485.38,420.66 L485.58,421.27 L485.78,421.82 L485.98,422.3 L486.18,422.69 L486.38,422.98 L486.58,423.16 L486.78,423.22 L486.98,423.17 L487.18,423 L487.38,422.72 L487.58,422.35 L487.78,421.9 L487.98,421.37 L488.19,420.8 L488.39,420.21 L488.59,419.61 L488.79,419.02 L488.99,418.46 L489.19,417.97 L489.39,417.54 L489.59,417.2 L489.79,416.95 L489.99,416.81 L490.19,416.77 L490.39,416.84 L490.59,417.02 L490.79,417.29 L490.99,417.65 L491.19,418.08 L491.39,418.56 L491.59,419.08 L491.79,419.63 L491.99,420.17 L492.19,420.69 L492.39,421.17 L492.59,421.6 L492.79,421.96 L492.99,422.24 L493.19,422.43 L493.39,422.52 L493.59,422.51 L493.79,422.4 L493.99,422.2 L494.19,421.91 L494.39,421.55 L494.59,421.13 L494.79,420.66 L494.99,420.16 L495.19,419.65 L495.39,419.15 L495.59,418.66 L495.79,418.22 L495.99,417.84 L496.19,417.52 L496.39,417.28 L496.59,417.12 L496.79,417.05 L496.99,417.08 L497.19,417.2 L497.39,417.39 L497.59,417.67 L497.79,418.01 L497.99,418.4 L498.19,418.83 L498.39,419.29 L498.59,419.75 L498.79,420.2 L498.99,420.62 L499.19,421 L499.39,421.33 L499.59,421.59 L499.79,421.77 L499.99,421.88 L500.19,421.9 L500.39,421.84 L500.59,421.7 L500.79,421.49 L500.99,421.2 L501.19,420.86 L501.39,420.48 L501.59,420.06 L501.79,419.63 L501.99,419.2 L502.19,418.78 L502.39,418.39 L502.59,418.05 L502.79,417.75 L502.99,417.52 L503.19,417.36 L503.39,417.28 L503.59,417.27 L503.79,417.34 L503.99,417.48 L504.19,417.69 L504.4,417.95 L504.6,418.27 L504.8,418.62 L505,419 L505.2,419.39 L505.4,419.77 L505.6,420.14 L505.8,420.47 L506,420.77 L506.2,421.01 L506.4,421.19 L506.6,421.31 L506.8,421.35 L507,421.33 L507.2,421.23 L507.4,421.07 L507.6,420.85 L507.8,420.58 L508,420.27 L508.2,419.93 L508.4,419.56 L508.6,419.2 L508.8,418.84 L509,418.5 L509.2,418.19 L509.4,417.92 L509.6,417.7 L509.8,417.54 L510,417.44 L510.2,417.41 L510.4,417.44 L510.6,417.54 L510.8,417.69 L511,417.9 L511.2,418.15 L511.4,418.44 L511.6,418.75 L511.8,419.08 L512,419.4 L512.2,419.72 L512.4,420.02 L512.6,420.28 L512.8,420.5 L513,420.67 L513.2,420.79 L513.4,420.85 L513.6,420.85 L513.8,420.79 L514,420.68 L514.2,420.51 L514.4,420.29 L514.6,420.04 L514.8,419.76 L515,419.45 L515.2,419.14 L515.4,418.83 L515.6,418.54 L515.8,418.26 L516,418.02 L516.2,417.82 L516.4,417.67 L516.6,417.56 L516.8,417.51 L517,417.52 L517.2,417.58 L517.4,417.69 L517.6,417.85 L517.8,418.05 L518,418.28 L518.2,418.54 L518.4,418.81 L518.6,419.08 L518.8,419.35 L519,419.61 L519.2,419.84 L519.4,420.04 L519.6,420.21 L519.8,420.32 L520,420.39 L520.2,420.41 L520.41,420.38 L520.61,420.3 L520.81,420.17 L521.01,420 L521.21,419.8 L521.41,419.57 L521.61,419.32 L521.81,419.05 L522.01,418.79 L522.21,418.53 L522.41,418.29 L522.61,418.08 L522.81,417.89 L523.01,417.74 L523.21,417.64 L523.41,417.58 L523.61,417.56 L523.81,417.6 L524.01,417.67 L524.21,417.79 L524.41,417.95 L524.61,418.13 L524.81,418.34 L525.01,418.57 L525.21,418.8 L525.41,419.03 L525.61,419.25 L525.81,419.46 L526.01,419.64 L526.21,419.79 L526.41,419.9 L526.61,419.97 L526.81,420 L527.01,419.99 L527.21,419.94 L527.41,419.84 L527.61,419.71 L527.81,419.55 L528.01,419.36 L528.21,419.15 L528.41,418.93 L528.61,418.71 L528.81,418.49 L529.01,418.28 L529.21,418.08 L529.41,417.92 L529.61,417.78 L529.81,417.67 L530.01,417.61 L530.21,417.58 L530.41,417.59 L530.61,417.64 L530.81,417.73 L531.01,417.85 L531.21,418 L531.41,418.17 L531.61,418.35 L531.81,418.54 L532.01,418.74 L532.21,418.93 L532.41,419.11 L532.61,419.27 L532.81,419.4 L533.01,419.51 L533.21,419.59 L533.41,419.62 L533.61,419.63 L533.81,419.59 L534.01,419.53 L534.21,419.43 L534.41,419.3 L534.61,419.15 L534.81,418.97 L535.01,418.79 L535.21,418.6 L535.41,418.41 L535.61,418.23 L535.81,418.06 L536.01,417.9 L536.21,417.78 L536.41,417.68 L536.62,417.61 L536.82,417.57 L537.02,417.57 L537.22,417.6 L537.42,417.66 L537.62,417.75 L537.82,417.86 L538.02,418 L538.22,418.15 L538.42,418.31 L538.62,418.48 L538.82,418.64 L539.02,418.79 L539.22,418.93 L539.42,419.06 L539.62,419.16 L539.82,419.23 L540.02,419.27 L540.22,419.29 L540.42,419.27 L540.62,419.22 L540.82,419.15 L541.02,419.05 L541.22,418.92 L541.42,418.78 L541.62,418.63 L541.82,418.47 L542.02,418.31 L542.22,418.15 L542.42,418 L542.62,417.86 L542.82,417.74 L543.02,417.65 L543.22,417.58 L543.42,417.54 L543.62,417.52 L543.82,417.54 L544.02,417.58 L544.22,417.64 L544.42,417.73 L544.42,449.33 L544.62,445.21 L544.82,441.17 L545.02,437.19 L545.22,433.19 L545.42,429.16 L545.62,425.08 L545.82,420.98 L546.02,416.9 L546.22,412.93 L546.42,409.15 L546.62,405.65 L546.82,402.53 L547.02,399.9 L547.22,397.81 L547.42,396.35 L547.62,395.55 L547.82,395.43 L548.02,396 L548.22,397.22 L548.42,399.06 L548.62,401.44 L548.82,404.27 L549.02,407.45 L549.22,410.87 L549.42,414.4 L549.62,417.92 L549.82,421.31 L550.02,424.45 L550.22,427.22 L550.42,429.54 L550.62,431.33 L550.82,432.53 L551.02,433.1 L551.22,433.03 L551.42,432.32 L551.62,431.01 L551.82,429.15 L552.02,426.81 L552.22,424.07 L552.42,421.04 L552.63,417.82 L552.83,414.53 L553.03,411.29 L553.23,408.2 L553.43,405.38 L553.63,402.93 L553.83,400.92 L554.03,399.42 L554.23,398.49 L554.43,398.14 L554.63,398.4 L554.83,399.23 L555.03,400.61 L555.23,402.49 L555.43,404.79 L555.63,407.43 L555.83,410.31 L556.03,413.33 L556.23,416.38 L556.43,419.36 L556.63,422.16 L556.83,424.68 L557.03,426.84 L557.23,428.57 L557.43,429.8 L557.63,430.5 L557.83,430.64 L558.03,430.24 L558.23,429.3 L558.43,427.87 L558.63,426 L558.83,423.75 L559.03,421.22 L559.23,418.49 L559.43,415.67 L559.63,412.84 L559.83,410.11 L560.03,407.59 L560.23,405.34 L560.43,403.45 L560.63,401.99 L560.83,401 L561.03,400.51 L561.23,400.53 L561.43,401.07 L561.63,402.08 L561.83,403.55 L562.03,405.4 L562.23,407.58 L562.43,410 L562.63,412.57 L562.83,415.2 L563.03,417.81 L563.23,420.29 L563.43,422.57 L563.63,424.56 L563.83,426.19 L564.03,427.42 L564.23,428.2 L564.43,428.5 L564.63,428.33 L564.83,427.7 L565.03,426.62 L565.23,425.14 L565.43,423.31 L565.63,421.21 L565.83,418.91 L566.03,416.5 L566.23,414.05 L566.43,411.66 L566.63,409.4 L566.83,407.36 L567.03,405.61 L567.23,404.21 L567.43,403.19 L567.63,402.61 L567.83,402.46 L568.03,402.75 L568.23,403.48 L568.43,404.6 L568.64,406.08 L568.84,407.86 L569.04,409.88 L569.24,412.06 L569.44,414.32 L569.64,416.59 L569.84,418.78 L570.04,420.82 L570.24,422.63 L570.44,424.16 L570.64,425.36 L570.84,426.18 L571.04,426.6 L571.24,426.61 L571.44,426.21 L571.64,425.42 L571.84,424.26 L572.04,422.8 L572.24,421.07 L572.44,419.14 L572.64,417.09 L572.84,414.97 L573.04,412.88 L573.24,410.88 L573.44,409.05 L573.64,407.44 L573.84,406.11 L574.04,405.1 L574.24,404.45 L574.44,404.18 L574.64,404.29 L574.84,404.78 L575.04,405.62 L575.24,406.79 L575.44,408.23 L575.64,409.9 L575.84,411.74 L576.04,413.67 L576.24,415.63 L576.44,417.56 L576.64,419.37 L576.84,421.02 L577.04,422.44 L577.24,423.59 L577.44,424.42 L577.64,424.91 L577.84,425.05 L578.04,424.84 L578.24,424.28 L578.44,423.4 L578.64,422.23 L578.84,420.82 L579.04,419.22 L579.24,417.48 L579.44,415.67 L579.64,413.85 L579.84,412.09 L580.04,410.44 L580.24,408.97 L580.44,407.73 L580.64,406.75 L580.84,406.07 L581.04,405.72 L581.24,405.69 L581.44,405.99 L581.64,406.6 L581.84,407.51 L582.04,408.67 L582.24,410.04 L582.44,411.58 L582.64,413.22 L582.84,414.91 L583.04,416.59 L583.24,418.2 L583.44,419.68 L583.64,420.98 L583.84,422.06 L584.04,422.89 L584.24,423.43 L584.44,423.66 L584.64,423.59 L584.85,423.22 L585.05,422.57 L585.25,421.65 L585.45,420.5 L585.65,419.18 L585.85,417.71 L586.05,416.17 L586.25,414.59 L586.45,413.05 L586.65,411.59 L586.85,410.26 L587.05,409.11 L587.25,408.17 L587.45,407.49 L587.65,407.07 L587.85,406.94 L588.05,407.09 L588.25,407.52 L588.45,408.21 L588.65,409.14 L588.85,410.26 L589.05,411.53 L589.25,412.92 L589.45,414.37 L589.65,415.83 L589.85,417.25 L590.05,418.57 L590.25,419.76 L590.45,420.77 L590.65,421.57 L590.85,422.13 L591.05,422.43 L591.25,422.47 L591.45,422.25 L591.65,421.77 L591.85,421.06 L592.05,420.14 L592.25,419.05 L592.45,417.83 L592.65,416.51 L592.85,415.16 L593.05,413.81 L593.25,412.52 L593.45,411.32 L593.65,410.27 L593.85,409.39 L594.05,408.72 L594.25,408.27 L594.45,408.06 L594.65,408.1 L594.85,408.38 L595.05,408.9 L595.25,409.62 L595.45,410.53 L595.65,411.58 L595.85,412.75 L596.05,413.98 L596.25,415.24 L596.45,416.48 L596.65,417.66 L596.85,418.74 L597.05,419.67 L597.25,420.43 L597.45,420.99 L597.65,421.34 L597.85,421.46 L598.05,421.35 L598.25,421.02 L598.45,420.48 L598.65,419.75 L598.85,418.86 L599.05,417.85 L599.25,416.74 L599.45,415.58 L599.65,414.41 L599.85,413.27 L600.05,412.21 L600.25,411.25 L600.45,410.43 L600.65,409.77 L600.86,409.31 L601.06,409.06 L601.26,409.01 L601.46,409.18 L601.66,409.55 L601.86,410.1 L602.06,410.83 L602.26,411.69 L602.46,412.67 L602.66,413.72 L602.86,414.8 L603.06,415.88 L603.26,416.92 L603.46,417.89 L603.66,418.74 L603.86,419.45 L604.06,420.01 L604.26,420.38 L604.46,420.56 L604.66,420.54 L604.86,420.32 L605.06,419.92 L605.26,419.35 L605.46,418.64 L605.66,417.8 L605.86,416.87 L606.06,415.88 L606.26,414.87 L606.46,413.87 L606.66,412.93 L606.86,412.06 L607.06,411.3 L607.26,410.69 L607.46,410.22 L607.66,409.93 L607.86,409.83 L608.06,409.9 L608.26,410.15 L608.46,410.58 L608.66,411.15 L608.86,411.85 L609.06,412.66 L609.26,413.55 L609.46,414.47 L609.66,415.41 L609.86,416.33 L610.06,417.19 L610.26,417.96 L610.46,418.63 L610.66,419.16 L610.86,419.54 L611.06,419.75 L611.26,419.8 L611.46,419.68 L611.66,419.4 L611.86,418.96 L612.06,418.38 L612.26,417.7 L612.46,416.92 L612.66,416.09 L612.86,415.22 L613.06,414.35 L613.26,413.51 L613.46,412.74 L613.66,412.04 L613.86,411.46 L614.06,411.01 L614.26,410.71 L614.46,410.55 L614.66,410.56 L614.86,410.72 L615.06,411.03 L615.26,411.48 L615.46,412.04 L615.66,412.71 L615.86,413.45 L616.06,414.24 L616.26,415.05 L616.46,415.85 L616.66,416.61 L616.86,417.31 L617.07,417.92 L617.27,418.43 L617.47,418.81 L617.67,419.05 L617.87,419.14 L618.07,419.09 L618.27,418.9 L618.47,418.57 L618.67,418.12 L618.87,417.56 L619.07,416.92 L619.27,416.21 L619.47,415.47 L619.67,414.72 L619.87,413.98 L620.07,413.29 L620.27,412.67 L620.47,412.13 L620.67,411.69 L620.87,411.38 L621.07,411.2 L621.27,411.15 L621.47,411.24 L621.67,411.46 L621.87,411.8 L622.07,412.25 L622.27,412.8 L622.47,413.42 L622.67,414.09 L622.87,414.78 L623.07,415.48 L623.27,416.15 L623.47,416.78 L623.67,417.33 L623.87,417.81 L624.07,418.17 L624.27,418.43 L624.47,418.56 L624.67,418.56 L624.87,418.44 L625.07,418.2 L625.27,417.85 L625.47,417.4 L625.67,416.87 L625.87,416.28 L626.07,415.65 L626.27,415 L626.47,414.36 L626.67,413.75 L626.87,413.18 L627.07,412.69 L627.27,412.28 L627.47,411.97 L627.67,411.77 L627.87,411.68 L628.07,411.71 L628.27,411.86 L628.47,412.12 L628.67,412.47 L628.87,412.92 L629.07,413.43 L629.27,413.99 L629.47,414.58 L629.67,415.19 L629.87,415.78 L630.07,416.33 L630.27,416.84 L630.47,417.28 L630.67,417.63 L630.87,417.89 L631.07,418.04 L631.27,418.09 L631.47,418.02 L631.67,417.85 L631.87,417.58 L632.07,417.23 L632.27,416.79 L632.47,416.3 L632.67,415.77 L632.87,415.21 L633.07,414.66 L633.28,414.11 L633.48,413.61 L633.68,413.16 L633.88,412.77 L634.08,412.47 L634.28,412.26 L634.48,412.15 L634.68,412.14 L634.88,412.23 L635.08,412.42 L635.28,412.7 L635.48,413.05 L635.68,413.47 L635.88,413.94 L636.08,414.45 L636.28,414.96 L636.48,415.48 L636.68,415.97 L636.88,416.43 L637.08,416.83 L637.28,417.16 L637.48,417.42 L637.68,417.58 L637.88,417.66 L638.08,417.64 L638.28,417.53 L638.48,417.33 L638.68,417.05 L638.88,416.7 L639.08,416.29 L639.28,415.84 L639.48,415.37 L639.68,414.88 L639.88,414.41 L640.08,413.96 L640.28,413.55 L640.48,413.2 L640.68,412.91 L640.88,412.7 L641.08,412.57 L641.28,412.53 L641.48,412.57 L641.68,412.7 L641.88,412.91 L642.08,413.2 L642.28,413.54 L642.48,413.93 L642.68,414.35 L642.88,414.8 L643.08,415.25 L643.28,415.68 L643.48,416.09 L643.68,416.45 L643.88,416.77 L644.08,417.01 L644.28,417.18 L644.48,417.28 L644.68,417.29 L644.88,417.23 L645.08,417.08 L645.28,416.86 L645.48,416.58 L645.68,416.25 L645.88,415.87 L646.08,415.47 L646.28,415.06 L646.48,414.64 L646.68,414.25 L646.88,413.88 L647.08,413.55 L647.28,413.28 L647.48,413.07 L647.68,412.94 L647.88,412.87 L648.08,412.88 L648.28,412.97 L648.48,413.12 L648.68,413.34 L648.88,413.62 L649.08,413.94 L649.29,414.3 L649.49,414.68 L649.69,415.07 L649.89,415.45 L650.09,415.81 L650.29,416.14 L650.49,416.43 L650.69,416.66 L650.89,416.84 L651.09,416.94 L651.29,416.98 L651.49,416.95 L651.69,416.85 L651.89,416.68 L652.09,416.46 L652.29,416.19 L652.49,415.88 L652.69,415.54 L652.89,415.18 L653.09,414.83 L653.29,414.48 L653.49,414.15 L653.69,413.85 L653.89,413.6 L654.09,413.4 L654.29,413.26 L654.49,413.18 L654.69,413.16 L654.89,413.21 L655.09,413.32 L655.29,413.49 L655.49,413.72 L655.69,413.98 L655.89,414.28 L656.09,414.6 L656.29,414.93 L656.49,415.26 L656.69,415.58 L656.89,415.88 L657.09,416.14 L657.29,416.36 L657.49,416.53 L657.69,416.65 L657.89,416.7 L658.09,416.7 L658.29,416.63 L658.49,416.51 L658.69,416.34 L658.89,416.12 L659.09,415.86 L659.29,415.58 L659.49,415.28 L659.69,414.97 L659.89,414.66 L660.09,414.37 L660.29,414.1 L660.49,413.87 L660.69,413.68 L660.89,413.54 L661.09,413.45 L661.29,413.41 L661.49,413.43 L661.69,413.51 L661.89,413.64 L662.09,413.82 L662.29,414.03 L662.49,414.28 L662.69,414.55 L662.89,414.83 L663.09,415.12 L663.29,415.4 L663.49,415.67 L663.69,415.9 L663.89,416.11 L664.09,416.27 L664.29,416.39 L664.49,416.46 L664.69,416.47 L664.89,416.44 L665.09,416.35 L665.29,416.22 L665.5,416.04 L665.7,415.83 L665.9,415.59 L666.1,415.34 L666.3,415.07 L666.5,414.81 L666.7,414.55 L666.9,414.31 L667.1,414.1 L667.3,413.92 L667.5,413.78 L667.7,413.68 L667.9,413.64 L668.1,413.64 L668.3,413.69 L668.5,413.78 L668.7,413.92 L668.9,414.09 L669.1,414.29 L669.3,414.52 L669.5,414.76 L669.7,415.01 L669.9,415.26 L670.1,415.49 L670.3,415.71 L670.5,415.89 L670.7,416.05 L670.9,416.17 L671.1,416.24 L671.3,416.27 L671.5,416.26 L671.7,416.2 L671.9,416.1 L672.1,415.96 L672.3,415.79 L672.5,415.59 L672.7,415.38 L672.9,415.15 L673.1,414.92 L673.3,414.69" stroke="#77ac30" stroke-width="2.2" fill="none" stroke-linejoin="round" clip-path="url(#c2)"/><rect x="28.9" y="341.7" width="644.4" height="136.8" stroke="#969696" stroke-width="1.55" fill="none"/><text x="25.1" y="468.2" text-anchor="end" class="tk">-1</text><text x="25.1" y="443.75" text-anchor="end" class="tk">-0.5</text><text x="25.1" y="419.3" text-anchor="end" class="tk">0</text><text x="25.1" y="394.85" text-anchor="end" class="tk">0.5</text><text x="25.1" y="370.4" text-anchor="end" class="tk">1</text><text x="25.1" y="345.95" text-anchor="end" class="tk">1.5</text><text x="351.1" y="338.1" text-anchor="middle" class="tt">Road Change and Wheel Position</text><clipPath id="c3"><rect x="28.9" y="503.3" width="644.40" height="111.60"/></clipPath><path d="M93.34,503.3V614.9M157.78,503.3V614.9M222.22,503.3V614.9M286.66,503.3V614.9M351.1,503.3V614.9M415.54,503.3V614.9M479.98,503.3V614.9M544.42,503.3V614.9M608.86,503.3V614.9M28.9,604H673.3M28.9,576.8H673.3M28.9,549.6H673.3M28.9,522.4H673.3" stroke="#cdcdcd" stroke-width="1" fill="none"/><path d="M93.34,614.9v-6.4M93.34,503.3v6.4M157.78,614.9v-6.4M157.78,503.3v6.4M222.22,614.9v-6.4M222.22,503.3v6.4M286.66,614.9v-6.4M286.66,503.3v6.4M351.1,614.9v-6.4M351.1,503.3v6.4M415.54,614.9v-6.4M415.54,503.3v6.4M479.98,614.9v-6.4M479.98,503.3v6.4M544.42,614.9v-6.4M544.42,503.3v6.4M608.86,614.9v-6.4M608.86,503.3v6.4M28.9,604h6.4M673.3,604h-6.4M28.9,576.8h6.4M673.3,576.8h-6.4M28.9,549.6h6.4M673.3,549.6h-6.4M28.9,522.4h6.4M673.3,522.4h-6.4" stroke="#969696" stroke-width="1" fill="none"/><path d="M28.9,603.8 L30.91,603.8 L32.92,603.79 L34.93,603.79 L36.95,603.79 L38.96,603.79 L40.97,603.79 L42.98,603.79 L44.99,603.79 L47,603.79 L49.02,603.79 L51.03,603.78 L53.04,603.77 L55.05,603.76 L57.06,603.75 L59.07,603.73 L61.09,603.7 L63.1,603.67 L65.11,603.63 L67.12,603.59 L69.13,603.54 L71.14,603.49 L73.16,603.44 L75.17,603.39 L77.18,603.33 L79.19,603.27 L81.2,603.21 L83.21,603.16 L85.22,603.1 L87.24,603.05 L89.25,602.99 L91.26,602.95 L93.27,602.9 L95.28,602.86 L97.29,602.82 L99.31,602.78 L101.32,602.74 L103.33,602.7 L105.34,602.66 L107.35,602.62 L109.36,602.58 L111.38,602.55 L113.39,602.51 L115.4,602.48 L117.41,602.44 L119.42,602.41 L121.43,602.37 L123.45,602.34 L125.46,602.31 L127.47,602.27 L129.48,602.24 L131.49,602.21 L133.5,602.18 L135.52,602.15 L137.53,602.11 L139.54,602.08 L141.55,602.05 L143.56,602.02 L145.57,601.99 L147.58,601.96 L149.6,601.93 L151.61,601.9 L153.62,601.88 L155.63,601.85 L157.64,601.82 L159.65,601.8 L161.67,601.77 L163.68,601.74 L165.69,601.72 L167.7,601.69 L169.71,601.67 L171.72,601.64 L173.74,601.62 L175.75,601.6 L177.76,601.57 L179.77,601.55 L181.78,601.52 L183.79,601.5 L185.81,601.48 L187.82,601.45 L189.83,601.43 L191.84,601.4 L193.85,601.38 L195.86,601.35 L197.87,601.33 L199.89,601.3 L201.9,601.28 L203.91,601.25 L205.92,601.22 L207.93,601.2 L209.94,601.17 L211.96,601.15 L213.97,601.12 L215.98,601.09 L217.99,601.07 L220,601.04 L222.01,601.02 L224.03,600.99 L226.04,600.96 L228.05,600.94 L230.06,600.91 L232.07,600.89 L234.08,600.86 L236.1,600.83 L238.11,600.81 L240.12,600.78 L242.13,600.76 L244.14,600.73 L246.15,600.7 L248.17,600.68 L250.18,600.65 L252.19,600.63 L254.2,600.6 L256.4,597.9 L256.8,597.69 L257.2,597.47 L257.6,597.27 L258,597.15 L258.4,597.11 L258.8,597.08 L259.2,597.04 L259.61,596.99 L260.01,596.91 L260.41,596.79 L260.81,596.63 L261.21,596.44 L261.61,596.23 L262.01,596.02 L262.41,595.81 L262.81,595.63 L263.21,595.47 L263.61,595.34 L264.01,595.23 L264.41,595.16 L264.81,595.1 L265.21,595.06 L265.61,595.02 L266.02,594.98 L266.42,594.92 L266.82,594.85 L267.22,594.75 L267.62,594.64 L268.02,594.5 L268.42,594.36 L268.82,594.22 L269.22,594.08 L269.62,593.95 L270.02,593.83 L270.42,593.74 L270.82,593.66 L271.22,593.6 L271.62,593.55 L272.02,593.5 L272.43,593.46 L272.83,593.41 L273.23,593.35 L273.63,593.28 L274.03,593.2 L274.43,593.1 L274.83,592.99 L275.23,592.88 L275.63,592.76 L276.03,592.65 L276.43,592.55 L276.83,592.46 L277.23,592.39 L277.63,592.32 L278.03,592.27 L278.43,592.22 L278.84,592.18 L279.24,592.14 L279.64,592.09 L280.04,592.04 L280.44,591.97 L280.84,591.9 L281.24,591.82 L281.64,591.74 L282.04,591.65 L282.44,591.56 L282.84,591.47 L283.24,591.4 L283.64,591.33 L284.04,591.26 L284.44,591.21 L284.84,591.16 L285.25,591.12 L285.65,591.07 L286.05,591.03 L286.45,590.98 L286.85,590.93 L287.25,590.86 L287.65,590.8 L288.05,590.72 L288.45,590.64 L288.85,590.56 L289.25,590.49 L289.65,590.41 L290.05,590.34 L290.45,590.28 L290.85,590.22 L291.26,590.17 L291.66,590.12 L292.06,590.08 L292.46,590.04 L292.86,589.99 L293.26,589.94 L293.66,589.89 L294.06,589.83 L294.46,589.77 L294.86,589.7 L295.26,589.64 L295.66,589.57 L296.06,589.5 L296.46,589.44 L296.86,589.38 L297.26,589.32 L297.67,589.27 L298.07,589.22 L298.47,589.18 L298.87,589.14 L299.27,589.1 L299.67,589.05 L300.07,589 L300.47,588.95 L300.87,588.9 L301.27,588.84 L301.67,588.78 L302.07,588.72 L302.47,588.66 L302.87,588.61 L303.27,588.55 L303.67,588.5 L304.08,588.45 L304.48,588.4 L304.88,588.36 L305.28,588.32 L305.68,588.28 L306.08,588.24 L306.48,588.2 L306.88,588.16 L307.28,588.11 L307.68,588.07 L308.08,588.02 L308.48,587.97 L308.88,587.92 L309.28,587.87 L309.68,587.82 L310.08,587.78 L310.49,587.74 L310.89,587.7 L311.29,587.66 L311.69,587.63 L312.09,587.59 L312.49,587.56 L312.89,587.53 L313.29,587.5 L313.69,587.46 L314.09,587.43 L314.49,587.39 L314.89,587.36 L315.29,587.32 L315.69,587.28 L316.09,587.25 L316.49,587.21 L316.9,587.18 L317.3,587.15 L317.7,587.12 L318.1,587.09 L318.5,587.06 L318.9,587.03 L319.3,587 L319.7,586.97 L320.1,586.94 L320.5,586.91 L320.9,586.88 L321.3,586.85 L321.7,586.81 L322.1,586.78 L322.5,586.74 L322.91,586.71 L323.31,586.67 L323.71,586.64 L324.11,586.6 L324.51,586.57 L324.91,586.54 L325.31,586.51 L325.71,586.48 L326.11,586.45 L326.51,586.42 L326.91,586.39 L327.31,586.36 L327.71,586.32 L328.11,586.29 L328.51,586.26 L328.91,586.22 L329.32,586.19 L329.72,586.16 L330.12,586.12 L330.52,586.09 L330.92,586.07 L331.32,586.04 L331.72,586.01 L332.12,585.98 L332.52,585.96 L332.92,585.93 L333.32,585.91 L333.72,585.88 L334.12,585.86 L334.52,585.83 L334.92,585.81 L335.32,585.78 L335.73,585.75 L336.13,585.73 L336.53,585.7 L336.93,585.68 L337.33,585.66 L337.73,585.63 L338.13,585.61 L338.53,585.59 L338.93,585.57 L339.33,585.55 L339.73,585.52 L340.13,585.5 L340.53,585.48 L340.93,585.46 L341.33,585.44 L341.73,585.42 L342.14,585.4 L342.54,585.37 L342.94,585.35 L343.34,585.33 L343.74,585.31 L344.14,585.29 L344.54,585.27 L344.94,585.26 L345.34,585.24 L345.74,585.22 L346.14,585.2 L346.54,585.19 L346.94,585.17 L347.34,585.15 L347.74,585.13 L348.14,585.12 L348.55,585.1 L348.95,585.08 L349.35,585.06 L349.75,585.05 L350.15,585.03 L350.55,585.02 L350.95,585 L351.35,584.99 L351.75,584.97 L352.15,584.96 L352.55,584.94 L352.95,584.93 L353.35,584.92 L353.75,584.9 L354.15,584.89 L354.56,584.88 L354.96,584.86 L355.36,584.85 L355.76,584.84 L356.16,584.82 L356.56,584.81 L356.96,584.8 L357.36,584.79 L357.76,584.78 L358.16,584.76 L358.56,584.75 L358.96,584.74 L359.36,584.73 L359.76,584.72 L360.16,584.71 L360.56,584.7 L360.97,584.69 L361.37,584.68 L361.77,584.67 L362.17,584.66 L362.57,584.65 L362.97,584.64 L363.37,584.63 L363.77,584.62 L364.17,584.61 L364.57,584.6 L364.97,584.59 L365.37,584.58 L365.77,584.57 L366.17,584.57 L366.57,584.56 L366.97,584.55 L367.38,584.54 L367.78,584.53 L368.18,584.52 L368.58,584.51 L368.98,584.51 L369.38,584.5 L369.78,584.49 L370.18,584.48 L370.58,584.47 L370.98,584.46 L371.38,584.46 L371.78,584.45 L372.18,584.44 L372.58,584.43 L372.98,584.42 L373.38,584.41 L373.79,584.41 L374.19,584.4 L374.59,584.39 L374.99,584.38 L375.39,584.37 L375.79,584.36 L376.19,584.36 L376.59,584.35 L376.99,584.34 L377.39,584.33 L377.79,584.32 L378.19,584.31 L378.59,584.3 L378.99,584.29 L379.39,584.29 L379.79,584.28 L380.2,584.27 L380.6,584.26 L381,584.25 L381.4,584.24 L381.8,584.23 L382.2,584.22 L382.6,584.21 L383,584.2 L385.6,577 L386,576.58 L386.4,576.19 L386.8,575.89 L387.2,575.73 L387.6,575.69 L388,575.65 L388.4,575.58 L388.8,575.45 L389.2,575.25 L389.61,574.98 L390.01,574.62 L390.41,574.21 L390.81,573.77 L391.21,573.31 L391.61,572.88 L392.01,572.49 L392.41,572.17 L392.81,571.92 L393.21,571.73 L393.61,571.61 L394.01,571.53 L394.41,571.46 L394.81,571.38 L395.21,571.28 L395.61,571.12 L396.01,570.9 L396.41,570.61 L396.81,570.27 L397.21,569.88 L397.62,569.47 L398.02,569.08 L398.42,568.71 L398.82,568.4 L399.22,568.15 L399.62,567.95 L400.02,567.81 L400.42,567.7 L400.82,567.63 L401.22,567.56 L401.62,567.48 L402.02,567.37 L402.42,567.23 L402.82,567.05 L403.22,566.84 L403.62,566.59 L404.02,566.33 L404.42,566.07 L404.82,565.82 L405.22,565.59 L405.63,565.39 L406.03,565.22 L406.43,565.09 L406.83,564.99 L407.23,564.91 L407.63,564.84 L408.03,564.78 L408.43,564.7 L408.83,564.61 L409.23,564.49 L409.63,564.34 L410.03,564.17 L410.43,563.98 L410.83,563.78 L411.23,563.58 L411.63,563.38 L412.03,563.2 L412.43,563.04 L412.83,562.91 L413.23,562.8 L413.64,562.71 L414.04,562.63 L414.44,562.56 L414.84,562.49 L415.24,562.41 L415.64,562.31 L416.04,562.18 L416.44,562.04 L416.84,561.87 L417.24,561.69 L417.64,561.51 L418.04,561.32 L418.44,561.14 L418.84,560.98 L419.24,560.83 L419.64,560.71 L420.04,560.61 L420.44,560.52 L420.84,560.44 L421.24,560.37 L421.65,560.29 L422.05,560.2 L422.45,560.1 L422.85,559.98 L423.25,559.84 L423.65,559.69 L424.05,559.53 L424.45,559.37 L424.85,559.21 L425.25,559.06 L425.65,558.92 L426.05,558.8 L426.45,558.69 L426.85,558.6 L427.25,558.52 L427.65,558.45 L428.05,558.38 L428.45,558.3 L428.85,558.22 L429.26,558.12 L429.66,558.01 L430.06,557.89 L430.46,557.76 L430.86,557.63 L431.26,557.49 L431.66,557.36 L432.06,557.24 L432.46,557.13 L432.86,557.03 L433.26,556.95 L433.66,556.88 L434.06,556.81 L434.46,556.75 L434.86,556.69 L435.26,556.62 L435.66,556.55 L436.06,556.47 L436.46,556.38 L436.86,556.28 L437.27,556.18 L437.67,556.08 L438.07,555.98 L438.47,555.89 L438.87,555.8 L439.27,555.71 L439.67,555.64 L440.07,555.58 L440.47,555.52 L440.87,555.46 L441.27,555.41 L441.67,555.36 L442.07,555.3 L442.47,555.24 L442.87,555.17 L443.27,555.09 L443.67,555.01 L444.07,554.93 L444.47,554.85 L444.87,554.76 L445.28,554.68 L445.68,554.61 L446.08,554.53 L446.48,554.47 L446.88,554.41 L447.28,554.36 L447.68,554.3 L448.08,554.25 L448.48,554.19 L448.88,554.14 L449.28,554.07 L449.68,554.01 L450.08,553.93 L450.48,553.86 L450.88,553.78 L451.28,553.71 L451.68,553.63 L452.08,553.56 L452.48,553.49 L452.88,553.43 L453.29,553.37 L453.69,553.32 L454.09,553.27 L454.49,553.22 L454.89,553.17 L455.29,553.12 L455.69,553.07 L456.09,553.02 L456.49,552.95 L456.89,552.89 L457.29,552.82 L457.69,552.76 L458.09,552.69 L458.49,552.62 L458.89,552.55 L459.29,552.49 L459.69,552.43 L460.09,552.38 L460.49,552.33 L460.89,552.28 L461.3,552.23 L461.7,552.18 L462.1,552.13 L462.5,552.07 L462.9,552.01 L463.3,551.95 L463.7,551.88 L464.1,551.81 L464.5,551.74 L464.9,551.66 L465.3,551.59 L465.7,551.52 L466.1,551.46 L466.5,551.4 L466.9,551.34 L467.3,551.28 L467.7,551.22 L468.1,551.17 L468.5,551.11 L468.91,551.05 L469.31,550.99 L469.71,550.92 L470.11,550.85 L470.51,550.78 L470.91,550.71 L471.31,550.63 L471.71,550.56 L472.11,550.49 L472.51,550.42 L472.91,550.35 L473.31,550.29 L473.71,550.23 L474.11,550.17 L474.51,550.11 L474.91,550.06 L475.31,550 L475.71,549.94 L476.11,549.88 L476.51,549.81 L476.92,549.75 L477.32,549.68 L477.72,549.61 L478.12,549.54 L478.52,549.48 L478.92,549.41 L479.32,549.35 L479.72,549.29 L480.12,549.24 L480.52,549.19 L480.92,549.14 L481.32,549.08 L481.72,549.03 L482.12,548.98 L482.52,548.93 L482.92,548.87 L483.32,548.82 L483.72,548.76 L484.12,548.7 L484.52,548.64 L484.93,548.58 L485.33,548.52 L485.73,548.47 L486.13,548.41 L486.53,548.36 L486.93,548.31 L487.33,548.26 L487.73,548.22 L488.13,548.17 L488.53,548.12 L488.93,548.07 L489.33,548.02 L489.73,547.97 L490.13,547.92 L490.53,547.87 L490.93,547.81 L491.33,547.76 L491.73,547.7 L492.13,547.65 L492.53,547.6 L492.94,547.55 L493.34,547.5 L493.74,547.45 L494.14,547.4 L494.54,547.36 L494.94,547.31 L495.34,547.26 L495.74,547.22 L496.14,547.17 L496.54,547.12 L496.94,547.06 L497.34,547.01 L497.74,546.96 L498.14,546.9 L498.54,546.85 L498.94,546.8 L499.34,546.75 L499.74,546.7 L500.14,546.65 L500.54,546.61 L500.95,546.56 L501.35,546.51 L501.75,546.47 L502.15,546.42 L502.55,546.38 L502.95,546.33 L503.35,546.28 L503.75,546.23 L504.15,546.18 L504.55,546.13 L504.95,546.08 L505.35,546.03 L505.75,545.98 L506.15,545.93 L506.55,545.88 L506.95,545.84 L507.35,545.79 L507.75,545.75 L508.15,545.7 L508.56,545.66 L508.96,545.61 L509.36,545.57 L509.76,545.52 L510.16,545.47 L510.56,545.42 L510.96,545.37 L511.36,545.32 L511.76,545.28 L512.16,545.23 L512.56,545.18 L512.96,545.13 L513.36,545.08 L513.76,545.04 L514.16,544.99 L514.56,544.95 L514.96,544.9 L515.36,544.85 L515.76,544.81 L516.16,544.76 L516.57,544.71 L516.97,544.66 L517.37,544.61 L517.77,544.56 L518.17,544.51 L518.57,544.46 L518.97,544.41 L519.37,544.36 L519.77,544.31 L520.17,544.26 L520.57,544.21 L520.97,544.17 L521.37,544.12 L521.77,544.07 L522.17,544.02 L522.57,543.98 L522.97,543.93 L523.37,543.88 L523.77,543.83 L524.17,543.78 L524.58,543.72 L524.98,543.67 L525.38,543.62 L525.78,543.57 L526.18,543.52 L526.58,543.47 L526.98,543.42 L527.38,543.38 L527.78,543.33 L528.18,543.28 L528.58,543.23 L528.98,543.19 L529.38,543.14 L529.78,543.09 L530.18,543.04 L530.58,542.99 L530.98,542.94 L531.38,542.88 L531.78,542.83 L532.18,542.78 L532.59,542.73 L532.99,542.68 L533.39,542.63 L533.79,542.58 L534.19,542.54 L534.59,542.49 L534.99,542.44 L535.39,542.39 L535.79,542.34 L536.19,542.29 L536.59,542.24 L536.99,542.19 L537.39,542.14 L537.79,542.09 L538.19,542.04 L538.59,541.99 L538.99,541.94 L539.39,541.89 L539.79,541.84 L540.19,541.79 L540.6,541.74 L541,541.69 L541.4,541.65 L541.8,541.6 L542.2,541.55 L542.6,541.5 L543,541.45 L543.4,541.4 L543.8,541.35 L544.2,541.3 L546.8,535.6 L547.2,535.3 L547.6,535.02 L548,534.81 L548.4,534.71 L548.8,534.68 L549.2,534.65 L549.6,534.59 L550,534.49 L550.4,534.33 L550.8,534.12 L551.2,533.85 L551.6,533.54 L552,533.22 L552.4,532.89 L552.8,532.59 L553.21,532.33 L553.61,532.11 L554.01,531.94 L554.41,531.82 L554.81,531.74 L555.21,531.69 L555.61,531.64 L556.01,531.59 L556.41,531.51 L556.81,531.39 L557.21,531.22 L557.61,531.02 L558.01,530.77 L558.41,530.51 L558.81,530.23 L559.21,529.96 L559.61,529.71 L560.01,529.5 L560.41,529.32 L560.81,529.18 L561.21,529.08 L561.61,529.01 L562.01,528.95 L562.41,528.89 L562.81,528.83 L563.21,528.74 L563.61,528.62 L564.01,528.46 L564.41,528.27 L564.81,528.06 L565.21,527.84 L565.61,527.6 L566.02,527.38 L566.42,527.18 L566.82,527 L567.22,526.86 L567.62,526.74 L568.02,526.66 L568.42,526.59 L568.82,526.52 L569.22,526.46 L569.62,526.39 L570.02,526.29 L570.42,526.18 L570.82,526.03 L571.22,525.87 L571.62,525.69 L572.02,525.5 L572.42,525.32 L572.82,525.14 L573.22,524.98 L573.62,524.84 L574.02,524.73 L574.42,524.63 L574.82,524.56 L575.22,524.49 L575.62,524.43 L576.02,524.37 L576.42,524.3 L576.82,524.21 L577.22,524.1 L577.62,523.98 L578.02,523.84 L578.42,523.69 L578.83,523.54 L579.23,523.39 L579.63,523.25 L580.03,523.12 L580.43,523.01 L580.83,522.91 L581.23,522.83 L581.63,522.76 L582.03,522.7 L582.43,522.64 L582.83,522.58 L583.23,522.5 L583.63,522.42 L584.03,522.32 L584.43,522.21 L584.83,522.09 L585.23,521.96 L585.63,521.83 L586.03,521.71 L586.43,521.59 L586.83,521.49 L587.23,521.39 L587.63,521.32 L588.03,521.25 L588.43,521.19 L588.83,521.14 L589.23,521.08 L589.63,521.03 L590.03,520.96 L590.43,520.89 L590.83,520.81 L591.24,520.73 L591.64,520.64 L592.04,520.54 L592.44,520.46 L592.84,520.38 L593.24,520.3 L593.64,520.24 L594.04,520.18 L594.44,520.13 L594.84,520.09 L595.24,520.05 L595.64,520.01 L596.04,519.97 L596.44,519.93 L596.84,519.89 L597.24,519.84 L597.64,519.79 L598.04,519.73 L598.44,519.67 L598.84,519.61 L599.24,519.55 L599.64,519.48 L600.04,519.43 L600.44,519.37 L600.84,519.32 L601.24,519.28 L601.64,519.24 L602.04,519.2 L602.44,519.16 L602.84,519.12 L603.24,519.08 L603.64,519.04 L604.05,518.99 L604.45,518.93 L604.85,518.88 L605.25,518.82 L605.65,518.76 L606.05,518.7 L606.45,518.64 L606.85,518.59 L607.25,518.54 L607.65,518.49 L608.05,518.45 L608.45,518.41 L608.85,518.38 L609.25,518.34 L609.65,518.3 L610.05,518.26 L610.45,518.21 L610.85,518.16 L611.25,518.11 L611.65,518.05 L612.05,517.99 L612.45,517.94 L612.85,517.88 L613.25,517.82 L613.65,517.77 L614.05,517.72 L614.45,517.67 L614.85,517.63 L615.25,517.59 L615.65,517.55 L616.05,517.51 L616.46,517.47 L616.86,517.43 L617.26,517.38 L617.66,517.34 L618.06,517.29 L618.46,517.23 L618.86,517.18 L619.26,517.13 L619.66,517.08 L620.06,517.04 L620.46,517 L620.86,516.96 L621.26,516.93 L621.66,516.9 L622.06,516.87 L622.46,516.84 L622.86,516.81 L623.26,516.78 L623.66,516.75 L624.06,516.71 L624.46,516.68 L624.86,516.65 L625.26,516.61 L625.66,516.57 L626.06,516.54 L626.46,516.51 L626.86,516.48 L627.26,516.45 L627.66,516.42 L628.06,516.4 L628.46,516.37 L628.86,516.35 L629.27,516.33 L629.67,516.3 L630.07,516.28 L630.47,516.26 L630.87,516.23 L631.27,516.2 L631.67,516.18 L632.07,516.15 L632.47,516.12 L632.87,516.1 L633.27,516.07 L633.67,516.05 L634.07,516.03 L634.47,516 L634.87,515.98 L635.27,515.96 L635.67,515.95 L636.07,515.93 L636.47,515.91 L636.87,515.89 L637.27,515.87 L637.67,515.84 L638.07,515.82 L638.47,515.8 L638.87,515.77 L639.27,515.75 L639.67,515.73 L640.07,515.71 L640.47,515.68 L640.87,515.66 L641.27,515.64 L641.67,515.62 L642.08,515.61 L642.48,515.59 L642.88,515.57 L643.28,515.55 L643.68,515.53 L644.08,515.51 L644.48,515.49 L644.88,515.47 L645.28,515.45 L645.68,515.42 L646.08,515.4 L646.48,515.38 L646.88,515.36 L647.28,515.34 L647.68,515.33 L648.08,515.31 L648.48,515.29 L648.88,515.28 L649.28,515.26 L649.68,515.24 L650.08,515.23 L650.48,515.21 L650.88,515.19 L651.28,515.17 L651.68,515.16 L652.08,515.14 L652.48,515.12 L652.88,515.1 L653.28,515.08 L653.68,515.07 L654.08,515.05 L654.49,515.03 L654.89,515.02 L655.29,515 L655.69,514.99 L656.09,514.97 L656.49,514.96 L656.89,514.94 L657.29,514.93 L657.69,514.91 L658.09,514.9 L658.49,514.88 L658.89,514.86 L659.29,514.85 L659.69,514.83 L660.09,514.81 L660.49,514.8 L660.89,514.78 L661.29,514.77 L661.69,514.75 L662.09,514.74 L662.49,514.73 L662.89,514.71 L663.29,514.7 L663.69,514.68 L664.09,514.67 L664.49,514.65 L664.89,514.64 L665.29,514.62 L665.69,514.6 L666.09,514.59 L666.49,514.57 L666.89,514.55 L667.3,514.54 L667.7,514.52 L668.1,514.51 L668.5,514.49 L668.9,514.48 L669.3,514.46 L669.7,514.45 L670.1,514.43 L670.5,514.42 L670.9,514.4 L671.3,514.38 L671.7,514.37 L672.1,514.35 L672.5,514.33 L672.9,514.32 L673.3,514.3" stroke="#000" stroke-width="2.2" fill="none" stroke-linejoin="round" clip-path="url(#c3)"/><rect x="28.9" y="503.3" width="644.4" height="111.6" stroke="#969696" stroke-width="1.55" fill="none"/><text x="25.1" y="608.2" text-anchor="end" class="tk">0</text><text x="25.1" y="581" text-anchor="end" class="tk">0.02</text><text x="25.1" y="553.8" text-anchor="end" class="tk">0.04</text><text x="25.1" y="526.6" text-anchor="end" class="tk">0.06</text><text x="351.1" y="499.7" text-anchor="middle" class="tt">ITAE</text><text x="28.9" y="628.5" text-anchor="middle" class="tk">0</text><text x="93.34" y="628.5" text-anchor="middle" class="tk">1</text><text x="157.78" y="628.5" text-anchor="middle" class="tk">2</text><text x="222.22" y="628.5" text-anchor="middle" class="tk">3</text><text x="286.66" y="628.5" text-anchor="middle" class="tk">4</text><text x="351.1" y="628.5" text-anchor="middle" class="tk">5</text><text x="415.54" y="628.5" text-anchor="middle" class="tk">6</text><text x="479.98" y="628.5" text-anchor="middle" class="tk">7</text><text x="544.42" y="628.5" text-anchor="middle" class="tk">8</text><text x="608.86" y="628.5" text-anchor="middle" class="tk">9</text><text x="673.3" y="628.5" text-anchor="middle" class="tk">10</text><text x="354.1" y="641.3" text-anchor="middle" class="tk" style="font-size:10.2px">Time (s)</text><text x="29.6" y="17.6" class="tk"><tspan style="stroke:none;fill:#555">×</tspan>10<tspan dy="-5.6" style="font-size:8px">7</tspan></text><path d="M2.3,622.6C2.9,623.8 2.9,625.6 2.3,626.9" stroke="#b8b8b8" stroke-width="1" fill="none"/></svg>
</body></html>
